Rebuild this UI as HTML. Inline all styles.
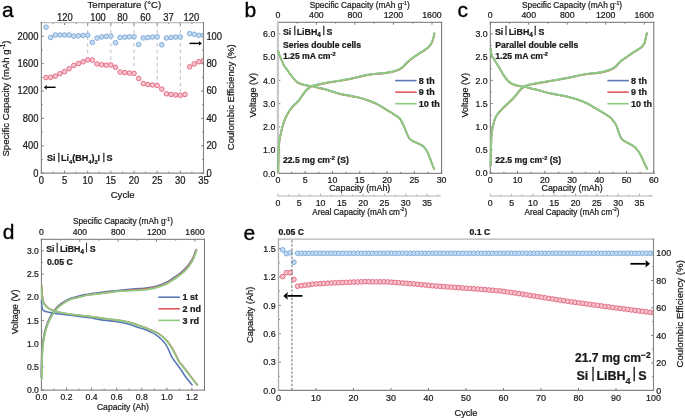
<!DOCTYPE html>
<html><head><meta charset="utf-8"><style>
html,body{margin:0;padding:0;background:#fff;width:685px;height:418px;overflow:hidden;}
svg{display:block;will-change:transform;filter:blur(0.25px);font-family:"Liberation Sans", sans-serif;}
</style></head><body>
<svg width="685" height="418" viewBox="0 0 685 418" font-family='"Liberation Sans", sans-serif'>
<rect width="685" height="418" fill="#fff"/>
<text x="2.1" y="16.7" font-size="21" stroke="#000" stroke-width="0.35" fill="#000">a</text>
<line x1="87.71" y1="23.4" x2="87.71" y2="56" stroke="#bdbdbd" stroke-width="1" stroke-dasharray="3.4,3.2"/>
<line x1="110.87" y1="23.4" x2="110.87" y2="61.2" stroke="#bdbdbd" stroke-width="1" stroke-dasharray="3.4,3.2"/>
<line x1="134.03" y1="23.4" x2="134.03" y2="69.6" stroke="#bdbdbd" stroke-width="1" stroke-dasharray="3.4,3.2"/>
<line x1="157.19" y1="23.4" x2="157.19" y2="81.7" stroke="#bdbdbd" stroke-width="1" stroke-dasharray="3.4,3.2"/>
<line x1="180.34" y1="23.4" x2="180.34" y2="91.5" stroke="#bdbdbd" stroke-width="1" stroke-dasharray="3.4,3.2"/>
<line x1="41.4" y1="173.1" x2="41.4" y2="170.7" stroke="#7e7e7e" stroke-width="1"/>
<line x1="41.4" y1="22.6" x2="41.4" y2="25" stroke="#7e7e7e" stroke-width="1"/>
<line x1="52.98" y1="173.1" x2="52.98" y2="171.7" stroke="#7e7e7e" stroke-width="1"/>
<line x1="52.98" y1="22.6" x2="52.98" y2="24" stroke="#7e7e7e" stroke-width="1"/>
<line x1="64.56" y1="173.1" x2="64.56" y2="170.7" stroke="#7e7e7e" stroke-width="1"/>
<line x1="64.56" y1="22.6" x2="64.56" y2="25" stroke="#7e7e7e" stroke-width="1"/>
<line x1="76.14" y1="173.1" x2="76.14" y2="171.7" stroke="#7e7e7e" stroke-width="1"/>
<line x1="76.14" y1="22.6" x2="76.14" y2="24" stroke="#7e7e7e" stroke-width="1"/>
<line x1="87.71" y1="173.1" x2="87.71" y2="170.7" stroke="#7e7e7e" stroke-width="1"/>
<line x1="87.71" y1="22.6" x2="87.71" y2="25" stroke="#7e7e7e" stroke-width="1"/>
<line x1="99.29" y1="173.1" x2="99.29" y2="171.7" stroke="#7e7e7e" stroke-width="1"/>
<line x1="99.29" y1="22.6" x2="99.29" y2="24" stroke="#7e7e7e" stroke-width="1"/>
<line x1="110.87" y1="173.1" x2="110.87" y2="170.7" stroke="#7e7e7e" stroke-width="1"/>
<line x1="110.87" y1="22.6" x2="110.87" y2="25" stroke="#7e7e7e" stroke-width="1"/>
<line x1="122.45" y1="173.1" x2="122.45" y2="171.7" stroke="#7e7e7e" stroke-width="1"/>
<line x1="122.45" y1="22.6" x2="122.45" y2="24" stroke="#7e7e7e" stroke-width="1"/>
<line x1="134.03" y1="173.1" x2="134.03" y2="170.7" stroke="#7e7e7e" stroke-width="1"/>
<line x1="134.03" y1="22.6" x2="134.03" y2="25" stroke="#7e7e7e" stroke-width="1"/>
<line x1="145.61" y1="173.1" x2="145.61" y2="171.7" stroke="#7e7e7e" stroke-width="1"/>
<line x1="145.61" y1="22.6" x2="145.61" y2="24" stroke="#7e7e7e" stroke-width="1"/>
<line x1="157.19" y1="173.1" x2="157.19" y2="170.7" stroke="#7e7e7e" stroke-width="1"/>
<line x1="157.19" y1="22.6" x2="157.19" y2="25" stroke="#7e7e7e" stroke-width="1"/>
<line x1="168.76" y1="173.1" x2="168.76" y2="171.7" stroke="#7e7e7e" stroke-width="1"/>
<line x1="168.76" y1="22.6" x2="168.76" y2="24" stroke="#7e7e7e" stroke-width="1"/>
<line x1="180.34" y1="173.1" x2="180.34" y2="170.7" stroke="#7e7e7e" stroke-width="1"/>
<line x1="180.34" y1="22.6" x2="180.34" y2="25" stroke="#7e7e7e" stroke-width="1"/>
<line x1="191.92" y1="173.1" x2="191.92" y2="171.7" stroke="#7e7e7e" stroke-width="1"/>
<line x1="191.92" y1="22.6" x2="191.92" y2="24" stroke="#7e7e7e" stroke-width="1"/>
<line x1="203.5" y1="173.1" x2="203.5" y2="170.7" stroke="#7e7e7e" stroke-width="1"/>
<line x1="203.5" y1="22.6" x2="203.5" y2="25" stroke="#7e7e7e" stroke-width="1"/>
<line x1="41.4" y1="173.1" x2="43.8" y2="173.1" stroke="#7e7e7e" stroke-width="1"/>
<line x1="41.4" y1="159.42" x2="42.8" y2="159.42" stroke="#7e7e7e" stroke-width="1"/>
<line x1="41.4" y1="145.74" x2="43.8" y2="145.74" stroke="#7e7e7e" stroke-width="1"/>
<line x1="41.4" y1="132.05" x2="42.8" y2="132.05" stroke="#7e7e7e" stroke-width="1"/>
<line x1="41.4" y1="118.37" x2="43.8" y2="118.37" stroke="#7e7e7e" stroke-width="1"/>
<line x1="41.4" y1="104.69" x2="42.8" y2="104.69" stroke="#7e7e7e" stroke-width="1"/>
<line x1="41.4" y1="91.01" x2="43.8" y2="91.01" stroke="#7e7e7e" stroke-width="1"/>
<line x1="41.4" y1="77.33" x2="42.8" y2="77.33" stroke="#7e7e7e" stroke-width="1"/>
<line x1="41.4" y1="63.65" x2="43.8" y2="63.65" stroke="#7e7e7e" stroke-width="1"/>
<line x1="41.4" y1="49.96" x2="42.8" y2="49.96" stroke="#7e7e7e" stroke-width="1"/>
<line x1="41.4" y1="36.28" x2="43.8" y2="36.28" stroke="#7e7e7e" stroke-width="1"/>
<line x1="41.4" y1="22.6" x2="42.8" y2="22.6" stroke="#7e7e7e" stroke-width="1"/>
<line x1="203.5" y1="173.1" x2="201.1" y2="173.1" stroke="#7e7e7e" stroke-width="1"/>
<line x1="203.5" y1="159.42" x2="202.1" y2="159.42" stroke="#7e7e7e" stroke-width="1"/>
<line x1="203.5" y1="145.74" x2="201.1" y2="145.74" stroke="#7e7e7e" stroke-width="1"/>
<line x1="203.5" y1="132.05" x2="202.1" y2="132.05" stroke="#7e7e7e" stroke-width="1"/>
<line x1="203.5" y1="118.37" x2="201.1" y2="118.37" stroke="#7e7e7e" stroke-width="1"/>
<line x1="203.5" y1="104.69" x2="202.1" y2="104.69" stroke="#7e7e7e" stroke-width="1"/>
<line x1="203.5" y1="91.01" x2="201.1" y2="91.01" stroke="#7e7e7e" stroke-width="1"/>
<line x1="203.5" y1="77.33" x2="202.1" y2="77.33" stroke="#7e7e7e" stroke-width="1"/>
<line x1="203.5" y1="63.65" x2="201.1" y2="63.65" stroke="#7e7e7e" stroke-width="1"/>
<line x1="203.5" y1="49.96" x2="202.1" y2="49.96" stroke="#7e7e7e" stroke-width="1"/>
<line x1="203.5" y1="36.28" x2="201.1" y2="36.28" stroke="#7e7e7e" stroke-width="1"/>
<line x1="203.5" y1="22.6" x2="202.1" y2="22.6" stroke="#7e7e7e" stroke-width="1"/>
<clipPath id="clipa"><rect x="41.4" y="22.6" width="162.1" height="150.5"/></clipPath><g clip-path="url(#clipa)">
<circle cx="46.03" cy="27.2" r="2.3" fill="#c7dbf0" stroke="#7eaedb" stroke-width="1"/>
<circle cx="50.66" cy="37.5" r="2.3" fill="#c7dbf0" stroke="#7eaedb" stroke-width="1"/>
<circle cx="55.29" cy="35" r="2.3" fill="#c7dbf0" stroke="#7eaedb" stroke-width="1"/>
<circle cx="59.93" cy="35" r="2.3" fill="#c7dbf0" stroke="#7eaedb" stroke-width="1"/>
<circle cx="64.56" cy="35" r="2.3" fill="#c7dbf0" stroke="#7eaedb" stroke-width="1"/>
<circle cx="69.19" cy="35" r="2.3" fill="#c7dbf0" stroke="#7eaedb" stroke-width="1"/>
<circle cx="73.82" cy="36.1" r="2.3" fill="#c7dbf0" stroke="#7eaedb" stroke-width="1"/>
<circle cx="78.45" cy="35.8" r="2.3" fill="#c7dbf0" stroke="#7eaedb" stroke-width="1"/>
<circle cx="83.08" cy="35.4" r="2.3" fill="#c7dbf0" stroke="#7eaedb" stroke-width="1"/>
<circle cx="87.71" cy="35.2" r="2.3" fill="#c7dbf0" stroke="#7eaedb" stroke-width="1"/>
<circle cx="92.35" cy="42.4" r="2.3" fill="#c7dbf0" stroke="#7eaedb" stroke-width="1"/>
<circle cx="96.98" cy="38.1" r="2.3" fill="#c7dbf0" stroke="#7eaedb" stroke-width="1"/>
<circle cx="101.61" cy="36.9" r="2.3" fill="#c7dbf0" stroke="#7eaedb" stroke-width="1"/>
<circle cx="106.24" cy="36.4" r="2.3" fill="#c7dbf0" stroke="#7eaedb" stroke-width="1"/>
<circle cx="110.87" cy="36.1" r="2.3" fill="#c7dbf0" stroke="#7eaedb" stroke-width="1"/>
<circle cx="115.5" cy="42.7" r="2.3" fill="#c7dbf0" stroke="#7eaedb" stroke-width="1"/>
<circle cx="120.13" cy="37.5" r="2.3" fill="#c7dbf0" stroke="#7eaedb" stroke-width="1"/>
<circle cx="124.77" cy="37.1" r="2.3" fill="#c7dbf0" stroke="#7eaedb" stroke-width="1"/>
<circle cx="129.4" cy="36.8" r="2.3" fill="#c7dbf0" stroke="#7eaedb" stroke-width="1"/>
<circle cx="134.03" cy="36.8" r="2.3" fill="#c7dbf0" stroke="#7eaedb" stroke-width="1"/>
<circle cx="138.66" cy="44.5" r="2.3" fill="#c7dbf0" stroke="#7eaedb" stroke-width="1"/>
<circle cx="143.29" cy="38" r="2.3" fill="#c7dbf0" stroke="#7eaedb" stroke-width="1"/>
<circle cx="147.92" cy="37.5" r="2.3" fill="#c7dbf0" stroke="#7eaedb" stroke-width="1"/>
<circle cx="152.55" cy="37.1" r="2.3" fill="#c7dbf0" stroke="#7eaedb" stroke-width="1"/>
<circle cx="157.19" cy="36.8" r="2.3" fill="#c7dbf0" stroke="#7eaedb" stroke-width="1"/>
<circle cx="161.82" cy="44.8" r="2.3" fill="#c7dbf0" stroke="#7eaedb" stroke-width="1"/>
<circle cx="166.45" cy="38" r="2.3" fill="#c7dbf0" stroke="#7eaedb" stroke-width="1"/>
<circle cx="171.08" cy="37.5" r="2.3" fill="#c7dbf0" stroke="#7eaedb" stroke-width="1"/>
<circle cx="175.71" cy="37.1" r="2.3" fill="#c7dbf0" stroke="#7eaedb" stroke-width="1"/>
<circle cx="180.34" cy="37.1" r="2.3" fill="#c7dbf0" stroke="#7eaedb" stroke-width="1"/>
<circle cx="189.61" cy="33.6" r="2.3" fill="#c7dbf0" stroke="#7eaedb" stroke-width="1"/>
<circle cx="194.24" cy="34.3" r="2.3" fill="#c7dbf0" stroke="#7eaedb" stroke-width="1"/>
<circle cx="198.87" cy="35.3" r="2.3" fill="#c7dbf0" stroke="#7eaedb" stroke-width="1"/>
<circle cx="203.5" cy="35.3" r="2.3" fill="#c7dbf0" stroke="#7eaedb" stroke-width="1"/>
<circle cx="46.03" cy="77.6" r="2.3" fill="#f8c4cc" stroke="#e36d88" stroke-width="1"/>
<circle cx="50.66" cy="77.3" r="2.3" fill="#f8c4cc" stroke="#e36d88" stroke-width="1"/>
<circle cx="55.29" cy="76.1" r="2.3" fill="#f8c4cc" stroke="#e36d88" stroke-width="1"/>
<circle cx="59.93" cy="73.7" r="2.3" fill="#f8c4cc" stroke="#e36d88" stroke-width="1"/>
<circle cx="64.56" cy="71.6" r="2.3" fill="#f8c4cc" stroke="#e36d88" stroke-width="1"/>
<circle cx="69.19" cy="68.7" r="2.3" fill="#f8c4cc" stroke="#e36d88" stroke-width="1"/>
<circle cx="73.82" cy="65.4" r="2.3" fill="#f8c4cc" stroke="#e36d88" stroke-width="1"/>
<circle cx="78.45" cy="63.6" r="2.3" fill="#f8c4cc" stroke="#e36d88" stroke-width="1"/>
<circle cx="83.08" cy="61.8" r="2.3" fill="#f8c4cc" stroke="#e36d88" stroke-width="1"/>
<circle cx="87.71" cy="59.8" r="2.3" fill="#f8c4cc" stroke="#e36d88" stroke-width="1"/>
<circle cx="92.35" cy="60.1" r="2.3" fill="#f8c4cc" stroke="#e36d88" stroke-width="1"/>
<circle cx="96.98" cy="63.9" r="2.3" fill="#f8c4cc" stroke="#e36d88" stroke-width="1"/>
<circle cx="101.61" cy="64.8" r="2.3" fill="#f8c4cc" stroke="#e36d88" stroke-width="1"/>
<circle cx="106.24" cy="65.1" r="2.3" fill="#f8c4cc" stroke="#e36d88" stroke-width="1"/>
<circle cx="110.87" cy="65" r="2.3" fill="#f8c4cc" stroke="#e36d88" stroke-width="1"/>
<circle cx="115.5" cy="67.3" r="2.3" fill="#f8c4cc" stroke="#e36d88" stroke-width="1"/>
<circle cx="120.13" cy="72" r="2.3" fill="#f8c4cc" stroke="#e36d88" stroke-width="1"/>
<circle cx="124.77" cy="72.6" r="2.3" fill="#f8c4cc" stroke="#e36d88" stroke-width="1"/>
<circle cx="129.4" cy="73.1" r="2.3" fill="#f8c4cc" stroke="#e36d88" stroke-width="1"/>
<circle cx="134.03" cy="73.4" r="2.3" fill="#f8c4cc" stroke="#e36d88" stroke-width="1"/>
<circle cx="138.66" cy="78.5" r="2.3" fill="#f8c4cc" stroke="#e36d88" stroke-width="1"/>
<circle cx="143.29" cy="83.6" r="2.3" fill="#f8c4cc" stroke="#e36d88" stroke-width="1"/>
<circle cx="147.92" cy="84.6" r="2.3" fill="#f8c4cc" stroke="#e36d88" stroke-width="1"/>
<circle cx="152.55" cy="85" r="2.3" fill="#f8c4cc" stroke="#e36d88" stroke-width="1"/>
<circle cx="157.19" cy="85.5" r="2.3" fill="#f8c4cc" stroke="#e36d88" stroke-width="1"/>
<circle cx="161.82" cy="89.1" r="2.3" fill="#f8c4cc" stroke="#e36d88" stroke-width="1"/>
<circle cx="166.45" cy="93.8" r="2.3" fill="#f8c4cc" stroke="#e36d88" stroke-width="1"/>
<circle cx="171.08" cy="94.5" r="2.3" fill="#f8c4cc" stroke="#e36d88" stroke-width="1"/>
<circle cx="175.71" cy="95" r="2.3" fill="#f8c4cc" stroke="#e36d88" stroke-width="1"/>
<circle cx="180.34" cy="95.3" r="2.3" fill="#f8c4cc" stroke="#e36d88" stroke-width="1"/>
<circle cx="184.97" cy="94.5" r="2.3" fill="#f8c4cc" stroke="#e36d88" stroke-width="1"/>
<circle cx="189.61" cy="66.8" r="2.3" fill="#f8c4cc" stroke="#e36d88" stroke-width="1"/>
<circle cx="194.24" cy="63.9" r="2.3" fill="#f8c4cc" stroke="#e36d88" stroke-width="1"/>
<circle cx="198.87" cy="61.7" r="2.3" fill="#f8c4cc" stroke="#e36d88" stroke-width="1"/>
<circle cx="203.5" cy="60.5" r="2.3" fill="#f8c4cc" stroke="#e36d88" stroke-width="1"/>
</g>
<line x1="41.4" y1="22.6" x2="203.5" y2="22.6" stroke="#bdbdbd" stroke-width="1.4" stroke-linecap="square"/>
<line x1="41.4" y1="173.1" x2="203.5" y2="173.1" stroke="#8a8a8a" stroke-width="1.15" stroke-linecap="square"/>
<line x1="41.4" y1="22.6" x2="41.4" y2="173.1" stroke="#858585" stroke-width="1.15" stroke-linecap="square"/>
<line x1="203.5" y1="22.6" x2="203.5" y2="173.1" stroke="#808080" stroke-width="1.1" stroke-linecap="square"/>
<line x1="55.6" y1="87.3" x2="46.4" y2="87.3" stroke="#000" stroke-width="1.45"/>
<path d="M43.9 87.3 L46.9 84.9 L46.5 87.3 L46.9 89.7 Z" fill="#000"/>
<line x1="189.5" y1="43.4" x2="199.3" y2="43.4" stroke="#000" stroke-width="1.45"/>
<path d="M201.8 43.4 L198.8 41 L199.2 43.4 L198.8 45.8 Z" fill="#000"/>
<text x="0" y="0" font-size="9.4" text-anchor="end" stroke="#1a1a1a" stroke-width="0.22" fill="#1a1a1a" transform="translate(38.4 176.56) scale(1 1.07)">0</text>
<text x="0" y="0" font-size="9.4" text-anchor="end" stroke="#1a1a1a" stroke-width="0.22" fill="#1a1a1a" transform="translate(38.4 149.2) scale(1 1.07)">400</text>
<text x="0" y="0" font-size="9.4" text-anchor="end" stroke="#1a1a1a" stroke-width="0.22" fill="#1a1a1a" transform="translate(38.4 121.83) scale(1 1.07)">800</text>
<text x="0" y="0" font-size="9.4" text-anchor="end" stroke="#1a1a1a" stroke-width="0.22" fill="#1a1a1a" transform="translate(38.4 94.47) scale(1 1.07)">1200</text>
<text x="0" y="0" font-size="9.4" text-anchor="end" stroke="#1a1a1a" stroke-width="0.22" fill="#1a1a1a" transform="translate(38.4 67.11) scale(1 1.07)">1600</text>
<text x="0" y="0" font-size="9.4" text-anchor="end" stroke="#1a1a1a" stroke-width="0.22" fill="#1a1a1a" transform="translate(38.4 39.74) scale(1 1.07)">2000</text>
<text x="0" y="0" font-size="9.4" stroke="#1a1a1a" stroke-width="0.22" fill="#1a1a1a" transform="translate(206.4 176.56) scale(1 1.07)">0</text>
<text x="0" y="0" font-size="9.4" stroke="#1a1a1a" stroke-width="0.22" fill="#1a1a1a" transform="translate(206.4 149.2) scale(1 1.07)">20</text>
<text x="0" y="0" font-size="9.4" stroke="#1a1a1a" stroke-width="0.22" fill="#1a1a1a" transform="translate(206.4 121.83) scale(1 1.07)">40</text>
<text x="0" y="0" font-size="9.4" stroke="#1a1a1a" stroke-width="0.22" fill="#1a1a1a" transform="translate(206.4 94.47) scale(1 1.07)">60</text>
<text x="0" y="0" font-size="9.4" stroke="#1a1a1a" stroke-width="0.22" fill="#1a1a1a" transform="translate(206.4 67.11) scale(1 1.07)">80</text>
<text x="0" y="0" font-size="9.4" stroke="#1a1a1a" stroke-width="0.22" fill="#1a1a1a" transform="translate(206.4 39.74) scale(1 1.07)">100</text>
<text x="0" y="0" font-size="9.4" text-anchor="middle" stroke="#1a1a1a" stroke-width="0.22" fill="#1a1a1a" transform="translate(41.4 183.7) scale(1 1.07)">0</text>
<text x="0" y="0" font-size="9.4" text-anchor="middle" stroke="#1a1a1a" stroke-width="0.22" fill="#1a1a1a" transform="translate(64.56 183.7) scale(1 1.07)">5</text>
<text x="0" y="0" font-size="9.4" text-anchor="middle" stroke="#1a1a1a" stroke-width="0.22" fill="#1a1a1a" transform="translate(87.71 183.7) scale(1 1.07)">10</text>
<text x="0" y="0" font-size="9.4" text-anchor="middle" stroke="#1a1a1a" stroke-width="0.22" fill="#1a1a1a" transform="translate(110.87 183.7) scale(1 1.07)">15</text>
<text x="0" y="0" font-size="9.4" text-anchor="middle" stroke="#1a1a1a" stroke-width="0.22" fill="#1a1a1a" transform="translate(134.03 183.7) scale(1 1.07)">20</text>
<text x="0" y="0" font-size="9.4" text-anchor="middle" stroke="#1a1a1a" stroke-width="0.22" fill="#1a1a1a" transform="translate(157.19 183.7) scale(1 1.07)">25</text>
<text x="0" y="0" font-size="9.4" text-anchor="middle" stroke="#1a1a1a" stroke-width="0.22" fill="#1a1a1a" transform="translate(180.34 183.7) scale(1 1.07)">30</text>
<text x="0" y="0" font-size="9.4" text-anchor="middle" stroke="#1a1a1a" stroke-width="0.22" fill="#1a1a1a" transform="translate(203.5 183.7) scale(1 1.07)">35</text>
<text x="0" y="0" font-size="9.4" text-anchor="middle" stroke="#1a1a1a" stroke-width="0.22" fill="#1a1a1a" transform="translate(64.8 21) scale(1 1.07)">120</text>
<text x="0" y="0" font-size="9.4" text-anchor="middle" stroke="#1a1a1a" stroke-width="0.22" fill="#1a1a1a" transform="translate(98 21) scale(1 1.07)">100</text>
<text x="0" y="0" font-size="9.4" text-anchor="middle" stroke="#1a1a1a" stroke-width="0.22" fill="#1a1a1a" transform="translate(122.5 21) scale(1 1.07)">80</text>
<text x="0" y="0" font-size="9.4" text-anchor="middle" stroke="#1a1a1a" stroke-width="0.22" fill="#1a1a1a" transform="translate(145.5 21) scale(1 1.07)">60</text>
<text x="0" y="0" font-size="9.4" text-anchor="middle" stroke="#1a1a1a" stroke-width="0.22" fill="#1a1a1a" transform="translate(168.4 21) scale(1 1.07)">37</text>
<text x="0" y="0" font-size="9.4" text-anchor="middle" stroke="#1a1a1a" stroke-width="0.22" fill="#1a1a1a" transform="translate(191.3 21) scale(1 1.07)">120</text>
<text x="124.4" y="7.8" font-size="9.6" text-anchor="middle" stroke="#1a1a1a" stroke-width="0.22" fill="#1a1a1a">Temperature (°C)</text>
<text x="122.7" y="198" font-size="9.6" text-anchor="middle" stroke="#1a1a1a" stroke-width="0.22" fill="#1a1a1a">Cycle</text>
<text x="8.9" y="98.5" font-size="9.6" text-anchor="middle" stroke="#1a1a1a" stroke-width="0.22" fill="#1a1a1a" transform="rotate(-90 8.9 98.5)">Specific Capacity (mAh g<tspan dy="-3.4" font-size="6.4">-1</tspan><tspan dy="3.4">)</tspan></text>
<text x="233.6" y="97.2" font-size="9.55" text-anchor="middle" stroke="#1a1a1a" stroke-width="0.22" fill="#1a1a1a" transform="rotate(-90 233.6 97.2)">Coulombic Efficiency (%)</text>
<text x="46.9" y="161.4" font-size="9" font-weight="bold" stroke="#1a1a1a" stroke-width="0.24" fill="#1a1a1a">Si<tspan dx="2" dy="-1.3" font-weight="normal" font-size="9.9" stroke="#1a1a1a" stroke-width="0.3">|</tspan><tspan dx="1.0" dy="1.3">Li</tspan><tspan dx="0" dy="2.43" font-size="5.76">4</tspan><tspan dy="-2.43">(BH</tspan><tspan dx="0" dy="2.43" font-size="5.76">4</tspan><tspan dy="-2.43">)</tspan><tspan dx="0" dy="2.43" font-size="5.76">3</tspan><tspan dy="-2.43">I</tspan><tspan dx="2.3" dy="-1.3" font-weight="normal" font-size="9.9" stroke="#1a1a1a" stroke-width="0.3">|</tspan><tspan dx="1.5" dy="1.3">S</tspan></text>
<text x="244.4" y="16.5" font-size="21" stroke="#000" stroke-width="0.35" fill="#000">b</text>
<line x1="277.9" y1="22.3" x2="277.9" y2="24.7" stroke="#7e7e7e" stroke-width="1"/>
<line x1="297.16" y1="22.3" x2="297.16" y2="23.7" stroke="#7e7e7e" stroke-width="1"/>
<line x1="316.42" y1="22.3" x2="316.42" y2="24.7" stroke="#7e7e7e" stroke-width="1"/>
<line x1="335.68" y1="22.3" x2="335.68" y2="23.7" stroke="#7e7e7e" stroke-width="1"/>
<line x1="354.94" y1="22.3" x2="354.94" y2="24.7" stroke="#7e7e7e" stroke-width="1"/>
<line x1="374.19" y1="22.3" x2="374.19" y2="23.7" stroke="#7e7e7e" stroke-width="1"/>
<line x1="393.45" y1="22.3" x2="393.45" y2="24.7" stroke="#7e7e7e" stroke-width="1"/>
<line x1="412.71" y1="22.3" x2="412.71" y2="23.7" stroke="#7e7e7e" stroke-width="1"/>
<line x1="431.97" y1="22.3" x2="431.97" y2="24.7" stroke="#7e7e7e" stroke-width="1"/>
<text x="0" y="0" font-size="8.8" text-anchor="middle" stroke="#1a1a1a" stroke-width="0.22" fill="#1a1a1a" transform="translate(277.9 17.7) scale(1 1.07)">0</text>
<text x="0" y="0" font-size="8.8" text-anchor="middle" stroke="#1a1a1a" stroke-width="0.22" fill="#1a1a1a" transform="translate(316.42 17.7) scale(1 1.07)">400</text>
<text x="0" y="0" font-size="8.8" text-anchor="middle" stroke="#1a1a1a" stroke-width="0.22" fill="#1a1a1a" transform="translate(354.94 17.7) scale(1 1.07)">800</text>
<text x="0" y="0" font-size="8.8" text-anchor="middle" stroke="#1a1a1a" stroke-width="0.22" fill="#1a1a1a" transform="translate(393.45 17.7) scale(1 1.07)">1200</text>
<text x="0" y="0" font-size="8.8" text-anchor="middle" stroke="#1a1a1a" stroke-width="0.22" fill="#1a1a1a" transform="translate(431.97 17.7) scale(1 1.07)">1600</text>
<text x="359.75" y="8.2" font-size="8.3" text-anchor="middle" stroke="#1a1a1a" stroke-width="0.22" fill="#1a1a1a">Specific Capacity (mAh g<tspan dy="-3.4" font-size="5.2">-1</tspan><tspan dy="3.4">)</tspan></text>
<line x1="277.9" y1="173.3" x2="277.9" y2="170.9" stroke="#7e7e7e" stroke-width="1"/>
<line x1="291.54" y1="173.3" x2="291.54" y2="171.9" stroke="#7e7e7e" stroke-width="1"/>
<line x1="305.18" y1="173.3" x2="305.18" y2="170.9" stroke="#7e7e7e" stroke-width="1"/>
<line x1="318.82" y1="173.3" x2="318.82" y2="171.9" stroke="#7e7e7e" stroke-width="1"/>
<line x1="332.47" y1="173.3" x2="332.47" y2="170.9" stroke="#7e7e7e" stroke-width="1"/>
<line x1="346.11" y1="173.3" x2="346.11" y2="171.9" stroke="#7e7e7e" stroke-width="1"/>
<line x1="359.75" y1="173.3" x2="359.75" y2="170.9" stroke="#7e7e7e" stroke-width="1"/>
<line x1="373.39" y1="173.3" x2="373.39" y2="171.9" stroke="#7e7e7e" stroke-width="1"/>
<line x1="387.03" y1="173.3" x2="387.03" y2="170.9" stroke="#7e7e7e" stroke-width="1"/>
<line x1="400.68" y1="173.3" x2="400.68" y2="171.9" stroke="#7e7e7e" stroke-width="1"/>
<line x1="414.32" y1="173.3" x2="414.32" y2="170.9" stroke="#7e7e7e" stroke-width="1"/>
<line x1="427.96" y1="173.3" x2="427.96" y2="171.9" stroke="#7e7e7e" stroke-width="1"/>
<line x1="441.6" y1="173.3" x2="441.6" y2="170.9" stroke="#7e7e7e" stroke-width="1"/>
<text x="0" y="0" font-size="8.8" text-anchor="middle" stroke="#1a1a1a" stroke-width="0.22" fill="#1a1a1a" transform="translate(277.9 183.1) scale(1 1.07)">0</text>
<text x="0" y="0" font-size="8.8" text-anchor="middle" stroke="#1a1a1a" stroke-width="0.22" fill="#1a1a1a" transform="translate(305.18 183.1) scale(1 1.07)">5</text>
<text x="0" y="0" font-size="8.8" text-anchor="middle" stroke="#1a1a1a" stroke-width="0.22" fill="#1a1a1a" transform="translate(332.47 183.1) scale(1 1.07)">10</text>
<text x="0" y="0" font-size="8.8" text-anchor="middle" stroke="#1a1a1a" stroke-width="0.22" fill="#1a1a1a" transform="translate(359.75 183.1) scale(1 1.07)">15</text>
<text x="0" y="0" font-size="8.8" text-anchor="middle" stroke="#1a1a1a" stroke-width="0.22" fill="#1a1a1a" transform="translate(387.03 183.1) scale(1 1.07)">20</text>
<text x="0" y="0" font-size="8.8" text-anchor="middle" stroke="#1a1a1a" stroke-width="0.22" fill="#1a1a1a" transform="translate(414.32 183.1) scale(1 1.07)">25</text>
<text x="0" y="0" font-size="8.8" text-anchor="middle" stroke="#1a1a1a" stroke-width="0.22" fill="#1a1a1a" transform="translate(441.6 183.1) scale(1 1.07)">30</text>
<text x="359.75" y="191.3" font-size="8.9" text-anchor="middle" stroke="#1a1a1a" stroke-width="0.22" fill="#1a1a1a">Capacity (mAh)</text>
<line x1="277.9" y1="173.3" x2="280.3" y2="173.3" stroke="#7e7e7e" stroke-width="1"/>
<line x1="277.9" y1="161.68" x2="279.3" y2="161.68" stroke="#7e7e7e" stroke-width="1"/>
<line x1="277.9" y1="150.07" x2="280.3" y2="150.07" stroke="#7e7e7e" stroke-width="1"/>
<line x1="277.9" y1="138.45" x2="279.3" y2="138.45" stroke="#7e7e7e" stroke-width="1"/>
<line x1="277.9" y1="126.84" x2="280.3" y2="126.84" stroke="#7e7e7e" stroke-width="1"/>
<line x1="277.9" y1="115.22" x2="279.3" y2="115.22" stroke="#7e7e7e" stroke-width="1"/>
<line x1="277.9" y1="103.61" x2="280.3" y2="103.61" stroke="#7e7e7e" stroke-width="1"/>
<line x1="277.9" y1="91.99" x2="279.3" y2="91.99" stroke="#7e7e7e" stroke-width="1"/>
<line x1="277.9" y1="80.38" x2="280.3" y2="80.38" stroke="#7e7e7e" stroke-width="1"/>
<line x1="277.9" y1="68.76" x2="279.3" y2="68.76" stroke="#7e7e7e" stroke-width="1"/>
<line x1="277.9" y1="57.15" x2="280.3" y2="57.15" stroke="#7e7e7e" stroke-width="1"/>
<line x1="277.9" y1="45.53" x2="279.3" y2="45.53" stroke="#7e7e7e" stroke-width="1"/>
<line x1="277.9" y1="33.92" x2="280.3" y2="33.92" stroke="#7e7e7e" stroke-width="1"/>
<line x1="277.9" y1="22.3" x2="279.3" y2="22.3" stroke="#7e7e7e" stroke-width="1"/>
<text x="0" y="0" font-size="8.8" text-anchor="end" stroke="#1a1a1a" stroke-width="0.22" fill="#1a1a1a" transform="translate(275.3 176.54) scale(1 1.07)">0.0</text>
<text x="0" y="0" font-size="8.8" text-anchor="end" stroke="#1a1a1a" stroke-width="0.22" fill="#1a1a1a" transform="translate(275.3 153.31) scale(1 1.07)">1.0</text>
<text x="0" y="0" font-size="8.8" text-anchor="end" stroke="#1a1a1a" stroke-width="0.22" fill="#1a1a1a" transform="translate(275.3 130.08) scale(1 1.07)">2.0</text>
<text x="0" y="0" font-size="8.8" text-anchor="end" stroke="#1a1a1a" stroke-width="0.22" fill="#1a1a1a" transform="translate(275.3 106.85) scale(1 1.07)">3.0</text>
<text x="0" y="0" font-size="8.8" text-anchor="end" stroke="#1a1a1a" stroke-width="0.22" fill="#1a1a1a" transform="translate(275.3 83.62) scale(1 1.07)">4.0</text>
<text x="0" y="0" font-size="8.8" text-anchor="end" stroke="#1a1a1a" stroke-width="0.22" fill="#1a1a1a" transform="translate(275.3 60.39) scale(1 1.07)">5.0</text>
<text x="0" y="0" font-size="8.8" text-anchor="end" stroke="#1a1a1a" stroke-width="0.22" fill="#1a1a1a" transform="translate(275.3 37.15) scale(1 1.07)">6.0</text>
<text x="255.9" y="95.2" font-size="9" text-anchor="middle" stroke="#1a1a1a" stroke-width="0.22" fill="#1a1a1a" transform="rotate(-90 255.9 95.2)">Voltage (V)</text>
<line x1="277.9" y1="22.3" x2="441.6" y2="22.3" stroke="#6e6e6e" stroke-width="1" stroke-linecap="square"/>
<line x1="277.9" y1="173.3" x2="441.6" y2="173.3" stroke="#6e6e6e" stroke-width="1" stroke-linecap="square"/>
<line x1="277.9" y1="22.3" x2="277.9" y2="173.3" stroke="#c8c8c8" stroke-width="2.2" stroke-linecap="square"/>
<line x1="441.6" y1="22.3" x2="441.6" y2="173.3" stroke="#6e6e6e" stroke-width="1" stroke-linecap="square"/>
<line x1="277.9" y1="196" x2="440.71" y2="196" stroke="#a8a8a8" stroke-width="0.9"/>
<line x1="277.9" y1="196" x2="277.9" y2="193.6" stroke="#a8a8a8" stroke-width="0.9"/>
<line x1="288.55" y1="196" x2="288.55" y2="194.6" stroke="#a8a8a8" stroke-width="0.9"/>
<line x1="299.21" y1="196" x2="299.21" y2="193.6" stroke="#a8a8a8" stroke-width="0.9"/>
<line x1="309.86" y1="196" x2="309.86" y2="194.6" stroke="#a8a8a8" stroke-width="0.9"/>
<line x1="320.52" y1="196" x2="320.52" y2="193.6" stroke="#a8a8a8" stroke-width="0.9"/>
<line x1="331.17" y1="196" x2="331.17" y2="194.6" stroke="#a8a8a8" stroke-width="0.9"/>
<line x1="341.83" y1="196" x2="341.83" y2="193.6" stroke="#a8a8a8" stroke-width="0.9"/>
<line x1="352.48" y1="196" x2="352.48" y2="194.6" stroke="#a8a8a8" stroke-width="0.9"/>
<line x1="363.14" y1="196" x2="363.14" y2="193.6" stroke="#a8a8a8" stroke-width="0.9"/>
<line x1="373.79" y1="196" x2="373.79" y2="194.6" stroke="#a8a8a8" stroke-width="0.9"/>
<line x1="384.45" y1="196" x2="384.45" y2="193.6" stroke="#a8a8a8" stroke-width="0.9"/>
<line x1="395.1" y1="196" x2="395.1" y2="194.6" stroke="#a8a8a8" stroke-width="0.9"/>
<line x1="405.76" y1="196" x2="405.76" y2="193.6" stroke="#a8a8a8" stroke-width="0.9"/>
<line x1="416.41" y1="196" x2="416.41" y2="194.6" stroke="#a8a8a8" stroke-width="0.9"/>
<line x1="427.07" y1="196" x2="427.07" y2="193.6" stroke="#a8a8a8" stroke-width="0.9"/>
<line x1="437.72" y1="196" x2="437.72" y2="194.6" stroke="#a8a8a8" stroke-width="0.9"/>
<text x="0" y="0" font-size="8.8" text-anchor="middle" stroke="#1a1a1a" stroke-width="0.22" fill="#1a1a1a" transform="translate(277.9 205.6) scale(1 1.07)">0</text>
<text x="0" y="0" font-size="8.8" text-anchor="middle" stroke="#1a1a1a" stroke-width="0.22" fill="#1a1a1a" transform="translate(299.21 205.6) scale(1 1.07)">5</text>
<text x="0" y="0" font-size="8.8" text-anchor="middle" stroke="#1a1a1a" stroke-width="0.22" fill="#1a1a1a" transform="translate(320.52 205.6) scale(1 1.07)">10</text>
<text x="0" y="0" font-size="8.8" text-anchor="middle" stroke="#1a1a1a" stroke-width="0.22" fill="#1a1a1a" transform="translate(341.83 205.6) scale(1 1.07)">15</text>
<text x="0" y="0" font-size="8.8" text-anchor="middle" stroke="#1a1a1a" stroke-width="0.22" fill="#1a1a1a" transform="translate(363.14 205.6) scale(1 1.07)">20</text>
<text x="0" y="0" font-size="8.8" text-anchor="middle" stroke="#1a1a1a" stroke-width="0.22" fill="#1a1a1a" transform="translate(384.45 205.6) scale(1 1.07)">25</text>
<text x="0" y="0" font-size="8.8" text-anchor="middle" stroke="#1a1a1a" stroke-width="0.22" fill="#1a1a1a" transform="translate(405.76 205.6) scale(1 1.07)">30</text>
<text x="0" y="0" font-size="8.8" text-anchor="middle" stroke="#1a1a1a" stroke-width="0.22" fill="#1a1a1a" transform="translate(427.07 205.6) scale(1 1.07)">35</text>
<text x="359.75" y="214.8" font-size="8.15" text-anchor="middle" stroke="#1a1a1a" stroke-width="0.22" fill="#1a1a1a">Areal Capacity (mAh cm<tspan dy="-3.4" font-size="5.2">-2</tspan><tspan dy="3.4">)</tspan></text>
<path d="M278.25 51.1 C278.35 51.47 278.67 52.7 278.85 53.3 C279.03 53.9 279.08 54 279.35 54.7 C279.62 55.4 280.03 56.53 280.45 57.5 C280.87 58.47 281.27 59.18 281.85 60.5 C282.43 61.82 283.08 63.87 283.95 65.4 C284.82 66.93 286.02 68.27 287.05 69.7 C288.08 71.13 289.12 72.6 290.15 74 C291.18 75.4 292.22 76.87 293.25 78.1 C294.28 79.33 295.32 80.53 296.35 81.4 C297.38 82.27 298.2 82.77 299.45 83.3 C300.7 83.83 302.62 84.27 303.85 84.6 C305.08 84.93 305.25 85.02 306.85 85.3 C308.45 85.58 311.42 85.88 313.45 86.3 C315.48 86.72 316.97 87.3 319.05 87.8 C321.13 88.3 322.65 88.35 325.95 89.3 C329.25 90.25 334.85 92.43 338.85 93.5 C342.85 94.57 346.67 95.05 349.95 95.7 C353.23 96.35 355.68 96.68 358.55 97.4 C361.42 98.12 364.28 99.02 367.15 100 C370.02 100.98 372.88 101.92 375.75 103.3 C378.62 104.68 381.47 106.58 384.35 108.3 C387.23 110.02 390.65 112.07 393.05 113.6 C395.45 115.13 397.4 116.35 398.75 117.5 C400.1 118.65 400.35 119.17 401.15 120.5 C401.95 121.83 402.72 123.63 403.55 125.5 C404.38 127.37 405.28 129.72 406.15 131.7 C407.02 133.68 407.77 135.93 408.75 137.4 C409.73 138.87 410.83 139.67 412.05 140.5 C413.27 141.33 414.73 141.78 416.05 142.4 C417.37 143.02 418.65 143.45 419.95 144.2 C421.25 144.95 422.65 145.68 423.85 146.9 C425.05 148.12 426.15 149.63 427.15 151.5 C428.15 153.37 429.03 156.02 429.85 158.1 C430.67 160.18 431.35 162.22 432.05 164 C432.75 165.78 433.72 168 434.05 168.8" fill="none" stroke="#5879b6" stroke-width="1.5" stroke-linejoin="round" stroke-linecap="round"/>
<path d="M278.15 171.4 C278.18 169.48 278.27 163.78 278.35 159.9 C278.43 156.02 278.5 151.18 278.65 148.1 C278.8 145.02 279.02 143.3 279.25 141.4 C279.48 139.5 279.72 138.45 280.05 136.7 C280.38 134.95 280.8 132.78 281.25 130.9 C281.7 129.02 282.17 127.32 282.75 125.4 C283.33 123.48 283.98 121.3 284.75 119.4 C285.52 117.5 286.48 115.62 287.35 114 C288.22 112.38 289.02 111.03 289.95 109.7 C290.88 108.37 291.95 107.1 292.95 106 C293.95 104.9 295 104.03 295.95 103.1 C296.9 102.17 297.73 101.52 298.65 100.4 C299.57 99.28 300.5 97.73 301.45 96.4 C302.4 95.07 303.4 93.62 304.35 92.4 C305.3 91.18 306.2 90.03 307.15 89.1 C308.1 88.17 309 87.4 310.05 86.8 C311.1 86.2 311.95 85.93 313.45 85.5 C314.95 85.07 316.97 84.67 319.05 84.2 C321.13 83.73 322.3 83.33 325.95 82.7 C329.6 82.07 336.12 81.25 340.95 80.4 C345.78 79.55 350.82 78.48 354.95 77.6 C359.08 76.72 362.17 75.77 365.75 75.1 C369.33 74.43 373.25 73.97 376.45 73.6 C379.65 73.23 382.33 73.23 384.95 72.9 C387.57 72.57 390.15 72.05 392.15 71.6 C394.15 71.15 395.65 70.67 396.95 70.2 C398.25 69.73 398.95 69.38 399.95 68.8 C400.95 68.22 401.85 67.7 402.95 66.7 C404.05 65.7 405.35 63.98 406.55 62.8 C407.75 61.62 408.72 60.73 410.15 59.6 C411.58 58.47 413.6 57.08 415.15 56 C416.7 54.92 418.02 54.03 419.45 53.1 C420.88 52.17 422.32 51.37 423.75 50.4 C425.18 49.43 426.78 48.52 428.05 47.3 C429.32 46.08 430.48 44.67 431.35 43.1 C432.22 41.53 432.75 39.53 433.25 37.9 C433.75 36.27 434.17 34.07 434.35 33.3" fill="none" stroke="#5879b6" stroke-width="1.5" stroke-linejoin="round" stroke-linecap="round"/>
<path d="M278.48 51.55 C278.58 51.92 278.89 53.15 279.07 53.75 C279.26 54.35 279.31 54.45 279.57 55.15 C279.84 55.85 280.26 56.98 280.68 57.95 C281.09 58.92 281.49 59.63 282.07 60.95 C282.66 62.27 283.31 64.32 284.18 65.85 C285.04 67.38 286.24 68.72 287.28 70.15 C288.31 71.58 289.34 73.05 290.38 74.45 C291.41 75.85 292.44 77.32 293.48 78.55 C294.51 79.78 295.54 80.98 296.57 81.85 C297.61 82.72 298.43 83.22 299.68 83.75 C300.93 84.28 302.84 84.72 304.07 85.05 C305.31 85.38 305.47 85.47 307.07 85.75 C308.68 86.03 311.64 86.33 313.68 86.75 C315.71 87.17 317.19 87.75 319.28 88.25 C321.36 88.75 322.88 88.8 326.18 89.75 C329.48 90.7 335.07 92.88 339.07 93.95 C343.07 95.02 346.89 95.5 350.18 96.15 C353.46 96.8 355.91 97.13 358.78 97.85 C361.64 98.57 364.51 99.47 367.38 100.45 C370.24 101.43 373.11 102.37 375.98 103.75 C378.84 105.13 381.69 107.03 384.57 108.75 C387.46 110.47 390.88 112.52 393.28 114.05 C395.68 115.58 397.62 116.8 398.98 117.95 C400.33 119.1 400.57 119.62 401.38 120.95 C402.18 122.28 402.94 124.08 403.78 125.95 C404.61 127.82 405.51 130.17 406.38 132.15 C407.24 134.13 407.99 136.38 408.98 137.85 C409.96 139.32 411.06 140.12 412.28 140.95 C413.49 141.78 414.96 142.23 416.28 142.85 C417.59 143.47 418.88 143.9 420.18 144.65 C421.48 145.4 422.88 146.13 424.07 147.35 C425.27 148.57 426.38 150.08 427.38 151.95 C428.38 153.82 429.26 156.47 430.07 158.55 C430.89 160.63 431.58 162.67 432.28 164.45 C432.98 166.23 433.94 168.45 434.28 169.25" fill="none" stroke="#e05860" stroke-width="1.5" stroke-linejoin="round" stroke-linecap="round"/>
<path d="M278.38 171.85 C278.41 169.93 278.49 164.23 278.57 160.35 C278.66 156.47 278.73 151.63 278.88 148.55 C279.02 145.47 279.24 143.75 279.48 141.85 C279.71 139.95 279.94 138.9 280.28 137.15 C280.61 135.4 281.03 133.23 281.48 131.35 C281.93 129.47 282.39 127.77 282.98 125.85 C283.56 123.93 284.21 121.75 284.98 119.85 C285.74 117.95 286.71 116.07 287.57 114.45 C288.44 112.83 289.24 111.48 290.18 110.15 C291.11 108.82 292.18 107.55 293.18 106.45 C294.18 105.35 295.23 104.48 296.18 103.55 C297.12 102.62 297.96 101.97 298.88 100.85 C299.79 99.73 300.73 98.18 301.68 96.85 C302.62 95.52 303.62 94.07 304.57 92.85 C305.52 91.63 306.43 90.48 307.38 89.55 C308.32 88.62 309.23 87.85 310.28 87.25 C311.33 86.65 312.18 86.38 313.68 85.95 C315.18 85.52 317.19 85.12 319.28 84.65 C321.36 84.18 322.53 83.78 326.18 83.15 C329.82 82.52 336.34 81.7 341.18 80.85 C346.01 80 351.04 78.93 355.18 78.05 C359.31 77.17 362.39 76.22 365.98 75.55 C369.56 74.88 373.48 74.42 376.68 74.05 C379.88 73.68 382.56 73.68 385.18 73.35 C387.79 73.02 390.38 72.5 392.38 72.05 C394.38 71.6 395.88 71.12 397.18 70.65 C398.48 70.18 399.18 69.83 400.18 69.25 C401.18 68.67 402.07 68.15 403.18 67.15 C404.28 66.15 405.58 64.43 406.78 63.25 C407.98 62.07 408.94 61.18 410.38 60.05 C411.81 58.92 413.82 57.53 415.38 56.45 C416.93 55.37 418.24 54.48 419.68 53.55 C421.11 52.62 422.54 51.82 423.98 50.85 C425.41 49.88 427.01 48.97 428.28 47.75 C429.54 46.53 430.71 45.12 431.57 43.55 C432.44 41.98 432.98 39.98 433.48 38.35 C433.98 36.72 434.39 34.52 434.57 33.75" fill="none" stroke="#e05860" stroke-width="1.5" stroke-linejoin="round" stroke-linecap="round"/>
<path d="M278.3 51.2 C278.4 51.57 278.72 52.8 278.9 53.4 C279.08 54 279.13 54.1 279.4 54.8 C279.67 55.5 280.08 56.63 280.5 57.6 C280.92 58.57 281.32 59.28 281.9 60.6 C282.48 61.92 283.13 63.97 284 65.5 C284.87 67.03 286.07 68.37 287.1 69.8 C288.13 71.23 289.17 72.7 290.2 74.1 C291.23 75.5 292.27 76.97 293.3 78.2 C294.33 79.43 295.37 80.63 296.4 81.5 C297.43 82.37 298.25 82.87 299.5 83.4 C300.75 83.93 302.67 84.37 303.9 84.7 C305.13 85.03 305.3 85.12 306.9 85.4 C308.5 85.68 311.47 85.98 313.5 86.4 C315.53 86.82 317.02 87.4 319.1 87.9 C321.18 88.4 322.7 88.45 326 89.4 C329.3 90.35 334.9 92.53 338.9 93.6 C342.9 94.67 346.72 95.15 350 95.8 C353.28 96.45 355.73 96.78 358.6 97.5 C361.47 98.22 364.33 99.12 367.2 100.1 C370.07 101.08 372.93 102.02 375.8 103.4 C378.67 104.78 381.52 106.68 384.4 108.4 C387.28 110.12 390.7 112.17 393.1 113.7 C395.5 115.23 397.45 116.45 398.8 117.6 C400.15 118.75 400.4 119.27 401.2 120.6 C402 121.93 402.77 123.73 403.6 125.6 C404.43 127.47 405.33 129.82 406.2 131.8 C407.07 133.78 407.82 136.03 408.8 137.5 C409.78 138.97 410.88 139.77 412.1 140.6 C413.32 141.43 414.78 141.88 416.1 142.5 C417.42 143.12 418.7 143.55 420 144.3 C421.3 145.05 422.7 145.78 423.9 147 C425.1 148.22 426.2 149.73 427.2 151.6 C428.2 153.47 429.08 156.12 429.9 158.2 C430.72 160.28 431.4 162.32 432.1 164.1 C432.8 165.88 433.77 168.1 434.1 168.9" fill="none" stroke="#8dc97f" stroke-width="2.05" stroke-linejoin="round" stroke-linecap="round"/>
<path d="M278.2 171.5 C278.23 169.58 278.32 163.88 278.4 160 C278.48 156.12 278.55 151.28 278.7 148.2 C278.85 145.12 279.07 143.4 279.3 141.5 C279.53 139.6 279.77 138.55 280.1 136.8 C280.43 135.05 280.85 132.88 281.3 131 C281.75 129.12 282.22 127.42 282.8 125.5 C283.38 123.58 284.03 121.4 284.8 119.5 C285.57 117.6 286.53 115.72 287.4 114.1 C288.27 112.48 289.07 111.13 290 109.8 C290.93 108.47 292 107.2 293 106.1 C294 105 295.05 104.13 296 103.2 C296.95 102.27 297.78 101.62 298.7 100.5 C299.62 99.38 300.55 97.83 301.5 96.5 C302.45 95.17 303.45 93.72 304.4 92.5 C305.35 91.28 306.25 90.13 307.2 89.2 C308.15 88.27 309.05 87.5 310.1 86.9 C311.15 86.3 312 86.03 313.5 85.6 C315 85.17 317.02 84.77 319.1 84.3 C321.18 83.83 322.35 83.43 326 82.8 C329.65 82.17 336.17 81.35 341 80.5 C345.83 79.65 350.87 78.58 355 77.7 C359.13 76.82 362.22 75.87 365.8 75.2 C369.38 74.53 373.3 74.07 376.5 73.7 C379.7 73.33 382.38 73.33 385 73 C387.62 72.67 390.2 72.15 392.2 71.7 C394.2 71.25 395.7 70.77 397 70.3 C398.3 69.83 399 69.48 400 68.9 C401 68.32 401.9 67.8 403 66.8 C404.1 65.8 405.4 64.08 406.6 62.9 C407.8 61.72 408.77 60.83 410.2 59.7 C411.63 58.57 413.65 57.18 415.2 56.1 C416.75 55.02 418.07 54.13 419.5 53.2 C420.93 52.27 422.37 51.47 423.8 50.5 C425.23 49.53 426.83 48.62 428.1 47.4 C429.37 46.18 430.53 44.77 431.4 43.2 C432.27 41.63 432.8 39.63 433.3 38 C433.8 36.37 434.22 34.17 434.4 33.4" fill="none" stroke="#8dc97f" stroke-width="2.05" stroke-linejoin="round" stroke-linecap="round"/>
<line x1="395.2" y1="80.6" x2="416.6" y2="80.6" stroke="#5879b6" stroke-width="1.6"/>
<text x="418.7" y="83.7" font-size="9" font-weight="bold" stroke="#1a1a1a" stroke-width="0.24" fill="#1a1a1a">8 th</text>
<line x1="395.2" y1="92.15" x2="416.6" y2="92.15" stroke="#e05860" stroke-width="1.6"/>
<text x="418.7" y="95.25" font-size="9" font-weight="bold" stroke="#1a1a1a" stroke-width="0.24" fill="#1a1a1a">9 th</text>
<line x1="395.2" y1="103.7" x2="416.6" y2="103.7" stroke="#8dc97f" stroke-width="1.6"/>
<text x="418.7" y="106.8" font-size="9" font-weight="bold" stroke="#1a1a1a" stroke-width="0.24" fill="#1a1a1a">10 th</text>
<text x="283" y="34.7" font-size="8.8" font-weight="bold" stroke="#1a1a1a" stroke-width="0.24" fill="#1a1a1a">Si<tspan dx="2.2" dy="-1.28" font-weight="normal" font-size="9.68" stroke="#1a1a1a" stroke-width="0.3">|</tspan><tspan dx="0.7" dy="1.28">LiBH</tspan><tspan dx="0" dy="2.38" font-size="6.34">4</tspan><tspan dx="1.6" dy="-3.65" font-weight="normal" font-size="9.68" stroke="#1a1a1a" stroke-width="0.3">|</tspan><tspan dx="1.7" dy="1.28">S</tspan></text>
<text x="282.9" y="48.1" font-size="8.65" font-weight="bold" stroke="#1a1a1a" stroke-width="0.24" fill="#1a1a1a">Series double cells</text>
<text x="282.9" y="59.2" font-size="8.65" font-weight="bold" stroke="#1a1a1a" stroke-width="0.24" fill="#1a1a1a">1.25 mA cm<tspan dy="-3.4" font-size="5.6">-2</tspan></text>
<text x="282.9" y="163.4" font-size="8.65" font-weight="bold" stroke="#1a1a1a" stroke-width="0.24" fill="#1a1a1a">22.5 mg cm<tspan dy="-3.4" font-size="5.6">-2</tspan><tspan dy="3.4"> (S)</tspan></text>
<text x="457.4" y="16.7" font-size="21" stroke="#000" stroke-width="0.35" fill="#000">c</text>
<line x1="490.3" y1="22.3" x2="490.3" y2="24.7" stroke="#7e7e7e" stroke-width="1"/>
<line x1="509.54" y1="22.3" x2="509.54" y2="23.7" stroke="#7e7e7e" stroke-width="1"/>
<line x1="528.77" y1="22.3" x2="528.77" y2="24.7" stroke="#7e7e7e" stroke-width="1"/>
<line x1="548.01" y1="22.3" x2="548.01" y2="23.7" stroke="#7e7e7e" stroke-width="1"/>
<line x1="567.24" y1="22.3" x2="567.24" y2="24.7" stroke="#7e7e7e" stroke-width="1"/>
<line x1="586.48" y1="22.3" x2="586.48" y2="23.7" stroke="#7e7e7e" stroke-width="1"/>
<line x1="605.71" y1="22.3" x2="605.71" y2="24.7" stroke="#7e7e7e" stroke-width="1"/>
<line x1="624.95" y1="22.3" x2="624.95" y2="23.7" stroke="#7e7e7e" stroke-width="1"/>
<line x1="644.18" y1="22.3" x2="644.18" y2="24.7" stroke="#7e7e7e" stroke-width="1"/>
<text x="0" y="0" font-size="8.8" text-anchor="middle" stroke="#1a1a1a" stroke-width="0.22" fill="#1a1a1a" transform="translate(490.3 17.7) scale(1 1.07)">0</text>
<text x="0" y="0" font-size="8.8" text-anchor="middle" stroke="#1a1a1a" stroke-width="0.22" fill="#1a1a1a" transform="translate(528.77 17.7) scale(1 1.07)">400</text>
<text x="0" y="0" font-size="8.8" text-anchor="middle" stroke="#1a1a1a" stroke-width="0.22" fill="#1a1a1a" transform="translate(567.24 17.7) scale(1 1.07)">800</text>
<text x="0" y="0" font-size="8.8" text-anchor="middle" stroke="#1a1a1a" stroke-width="0.22" fill="#1a1a1a" transform="translate(605.71 17.7) scale(1 1.07)">1200</text>
<text x="0" y="0" font-size="8.8" text-anchor="middle" stroke="#1a1a1a" stroke-width="0.22" fill="#1a1a1a" transform="translate(644.18 17.7) scale(1 1.07)">1600</text>
<text x="572.05" y="8.2" font-size="8.3" text-anchor="middle" stroke="#1a1a1a" stroke-width="0.22" fill="#1a1a1a">Specific Capacity (mAh g<tspan dy="-3.4" font-size="5.2">-1</tspan><tspan dy="3.4">)</tspan></text>
<line x1="490.3" y1="173.2" x2="490.3" y2="170.8" stroke="#7e7e7e" stroke-width="1"/>
<line x1="503.93" y1="173.2" x2="503.93" y2="171.8" stroke="#7e7e7e" stroke-width="1"/>
<line x1="517.55" y1="173.2" x2="517.55" y2="170.8" stroke="#7e7e7e" stroke-width="1"/>
<line x1="531.17" y1="173.2" x2="531.17" y2="171.8" stroke="#7e7e7e" stroke-width="1"/>
<line x1="544.8" y1="173.2" x2="544.8" y2="170.8" stroke="#7e7e7e" stroke-width="1"/>
<line x1="558.42" y1="173.2" x2="558.42" y2="171.8" stroke="#7e7e7e" stroke-width="1"/>
<line x1="572.05" y1="173.2" x2="572.05" y2="170.8" stroke="#7e7e7e" stroke-width="1"/>
<line x1="585.67" y1="173.2" x2="585.67" y2="171.8" stroke="#7e7e7e" stroke-width="1"/>
<line x1="599.3" y1="173.2" x2="599.3" y2="170.8" stroke="#7e7e7e" stroke-width="1"/>
<line x1="612.92" y1="173.2" x2="612.92" y2="171.8" stroke="#7e7e7e" stroke-width="1"/>
<line x1="626.55" y1="173.2" x2="626.55" y2="170.8" stroke="#7e7e7e" stroke-width="1"/>
<line x1="640.17" y1="173.2" x2="640.17" y2="171.8" stroke="#7e7e7e" stroke-width="1"/>
<line x1="653.8" y1="173.2" x2="653.8" y2="170.8" stroke="#7e7e7e" stroke-width="1"/>
<text x="0" y="0" font-size="8.8" text-anchor="middle" stroke="#1a1a1a" stroke-width="0.22" fill="#1a1a1a" transform="translate(490.3 183.1) scale(1 1.07)">0</text>
<text x="0" y="0" font-size="8.8" text-anchor="middle" stroke="#1a1a1a" stroke-width="0.22" fill="#1a1a1a" transform="translate(517.55 183.1) scale(1 1.07)">10</text>
<text x="0" y="0" font-size="8.8" text-anchor="middle" stroke="#1a1a1a" stroke-width="0.22" fill="#1a1a1a" transform="translate(544.8 183.1) scale(1 1.07)">20</text>
<text x="0" y="0" font-size="8.8" text-anchor="middle" stroke="#1a1a1a" stroke-width="0.22" fill="#1a1a1a" transform="translate(572.05 183.1) scale(1 1.07)">30</text>
<text x="0" y="0" font-size="8.8" text-anchor="middle" stroke="#1a1a1a" stroke-width="0.22" fill="#1a1a1a" transform="translate(599.3 183.1) scale(1 1.07)">40</text>
<text x="0" y="0" font-size="8.8" text-anchor="middle" stroke="#1a1a1a" stroke-width="0.22" fill="#1a1a1a" transform="translate(626.55 183.1) scale(1 1.07)">50</text>
<text x="0" y="0" font-size="8.8" text-anchor="middle" stroke="#1a1a1a" stroke-width="0.22" fill="#1a1a1a" transform="translate(653.8 183.1) scale(1 1.07)">60</text>
<text x="572.05" y="191.3" font-size="8.9" text-anchor="middle" stroke="#1a1a1a" stroke-width="0.22" fill="#1a1a1a">Capacity (mAh)</text>
<line x1="490.3" y1="173.2" x2="492.7" y2="173.2" stroke="#7e7e7e" stroke-width="1"/>
<line x1="490.3" y1="161.59" x2="491.7" y2="161.59" stroke="#7e7e7e" stroke-width="1"/>
<line x1="490.3" y1="149.98" x2="492.7" y2="149.98" stroke="#7e7e7e" stroke-width="1"/>
<line x1="490.3" y1="138.38" x2="491.7" y2="138.38" stroke="#7e7e7e" stroke-width="1"/>
<line x1="490.3" y1="126.77" x2="492.7" y2="126.77" stroke="#7e7e7e" stroke-width="1"/>
<line x1="490.3" y1="115.16" x2="491.7" y2="115.16" stroke="#7e7e7e" stroke-width="1"/>
<line x1="490.3" y1="103.55" x2="492.7" y2="103.55" stroke="#7e7e7e" stroke-width="1"/>
<line x1="490.3" y1="91.95" x2="491.7" y2="91.95" stroke="#7e7e7e" stroke-width="1"/>
<line x1="490.3" y1="80.34" x2="492.7" y2="80.34" stroke="#7e7e7e" stroke-width="1"/>
<line x1="490.3" y1="68.73" x2="491.7" y2="68.73" stroke="#7e7e7e" stroke-width="1"/>
<line x1="490.3" y1="57.12" x2="492.7" y2="57.12" stroke="#7e7e7e" stroke-width="1"/>
<line x1="490.3" y1="45.52" x2="491.7" y2="45.52" stroke="#7e7e7e" stroke-width="1"/>
<line x1="490.3" y1="33.91" x2="492.7" y2="33.91" stroke="#7e7e7e" stroke-width="1"/>
<line x1="490.3" y1="22.3" x2="491.7" y2="22.3" stroke="#7e7e7e" stroke-width="1"/>
<text x="0" y="0" font-size="8.8" text-anchor="end" stroke="#1a1a1a" stroke-width="0.22" fill="#1a1a1a" transform="translate(487.7 176.44) scale(1 1.07)">0.0</text>
<text x="0" y="0" font-size="8.8" text-anchor="end" stroke="#1a1a1a" stroke-width="0.22" fill="#1a1a1a" transform="translate(487.7 153.22) scale(1 1.07)">0.5</text>
<text x="0" y="0" font-size="8.8" text-anchor="end" stroke="#1a1a1a" stroke-width="0.22" fill="#1a1a1a" transform="translate(487.7 130.01) scale(1 1.07)">1.0</text>
<text x="0" y="0" font-size="8.8" text-anchor="end" stroke="#1a1a1a" stroke-width="0.22" fill="#1a1a1a" transform="translate(487.7 106.79) scale(1 1.07)">1.5</text>
<text x="0" y="0" font-size="8.8" text-anchor="end" stroke="#1a1a1a" stroke-width="0.22" fill="#1a1a1a" transform="translate(487.7 83.58) scale(1 1.07)">2.0</text>
<text x="0" y="0" font-size="8.8" text-anchor="end" stroke="#1a1a1a" stroke-width="0.22" fill="#1a1a1a" transform="translate(487.7 60.36) scale(1 1.07)">2.5</text>
<text x="0" y="0" font-size="8.8" text-anchor="end" stroke="#1a1a1a" stroke-width="0.22" fill="#1a1a1a" transform="translate(487.7 37.15) scale(1 1.07)">3.0</text>
<text x="468.3" y="95.15" font-size="9" text-anchor="middle" stroke="#1a1a1a" stroke-width="0.22" fill="#1a1a1a" transform="rotate(-90 468.3 95.15)">Voltage (V)</text>
<line x1="490.3" y1="22.3" x2="653.8" y2="22.3" stroke="#6e6e6e" stroke-width="1" stroke-linecap="square"/>
<line x1="490.3" y1="173.2" x2="653.8" y2="173.2" stroke="#6e6e6e" stroke-width="1" stroke-linecap="square"/>
<line x1="490.3" y1="22.3" x2="490.3" y2="173.2" stroke="#777777" stroke-width="1" stroke-linecap="square"/>
<line x1="653.8" y1="22.3" x2="653.8" y2="173.2" stroke="#6e6e6e" stroke-width="1" stroke-linecap="square"/>
<line x1="490.3" y1="196" x2="653.11" y2="196" stroke="#a8a8a8" stroke-width="0.9"/>
<line x1="490.3" y1="196" x2="490.3" y2="193.6" stroke="#a8a8a8" stroke-width="0.9"/>
<line x1="500.95" y1="196" x2="500.95" y2="194.6" stroke="#a8a8a8" stroke-width="0.9"/>
<line x1="511.61" y1="196" x2="511.61" y2="193.6" stroke="#a8a8a8" stroke-width="0.9"/>
<line x1="522.26" y1="196" x2="522.26" y2="194.6" stroke="#a8a8a8" stroke-width="0.9"/>
<line x1="532.92" y1="196" x2="532.92" y2="193.6" stroke="#a8a8a8" stroke-width="0.9"/>
<line x1="543.58" y1="196" x2="543.58" y2="194.6" stroke="#a8a8a8" stroke-width="0.9"/>
<line x1="554.23" y1="196" x2="554.23" y2="193.6" stroke="#a8a8a8" stroke-width="0.9"/>
<line x1="564.88" y1="196" x2="564.88" y2="194.6" stroke="#a8a8a8" stroke-width="0.9"/>
<line x1="575.54" y1="196" x2="575.54" y2="193.6" stroke="#a8a8a8" stroke-width="0.9"/>
<line x1="586.2" y1="196" x2="586.2" y2="194.6" stroke="#a8a8a8" stroke-width="0.9"/>
<line x1="596.85" y1="196" x2="596.85" y2="193.6" stroke="#a8a8a8" stroke-width="0.9"/>
<line x1="607.5" y1="196" x2="607.5" y2="194.6" stroke="#a8a8a8" stroke-width="0.9"/>
<line x1="618.16" y1="196" x2="618.16" y2="193.6" stroke="#a8a8a8" stroke-width="0.9"/>
<line x1="628.82" y1="196" x2="628.82" y2="194.6" stroke="#a8a8a8" stroke-width="0.9"/>
<line x1="639.47" y1="196" x2="639.47" y2="193.6" stroke="#a8a8a8" stroke-width="0.9"/>
<line x1="650.12" y1="196" x2="650.12" y2="194.6" stroke="#a8a8a8" stroke-width="0.9"/>
<text x="0" y="0" font-size="8.8" text-anchor="middle" stroke="#1a1a1a" stroke-width="0.22" fill="#1a1a1a" transform="translate(490.3 205.6) scale(1 1.07)">0</text>
<text x="0" y="0" font-size="8.8" text-anchor="middle" stroke="#1a1a1a" stroke-width="0.22" fill="#1a1a1a" transform="translate(511.61 205.6) scale(1 1.07)">5</text>
<text x="0" y="0" font-size="8.8" text-anchor="middle" stroke="#1a1a1a" stroke-width="0.22" fill="#1a1a1a" transform="translate(532.92 205.6) scale(1 1.07)">10</text>
<text x="0" y="0" font-size="8.8" text-anchor="middle" stroke="#1a1a1a" stroke-width="0.22" fill="#1a1a1a" transform="translate(554.23 205.6) scale(1 1.07)">15</text>
<text x="0" y="0" font-size="8.8" text-anchor="middle" stroke="#1a1a1a" stroke-width="0.22" fill="#1a1a1a" transform="translate(575.54 205.6) scale(1 1.07)">20</text>
<text x="0" y="0" font-size="8.8" text-anchor="middle" stroke="#1a1a1a" stroke-width="0.22" fill="#1a1a1a" transform="translate(596.85 205.6) scale(1 1.07)">25</text>
<text x="0" y="0" font-size="8.8" text-anchor="middle" stroke="#1a1a1a" stroke-width="0.22" fill="#1a1a1a" transform="translate(618.16 205.6) scale(1 1.07)">30</text>
<text x="0" y="0" font-size="8.8" text-anchor="middle" stroke="#1a1a1a" stroke-width="0.22" fill="#1a1a1a" transform="translate(639.47 205.6) scale(1 1.07)">35</text>
<text x="572.05" y="214.8" font-size="8.15" text-anchor="middle" stroke="#1a1a1a" stroke-width="0.22" fill="#1a1a1a">Areal Capacity (mAh cm<tspan dy="-3.4" font-size="5.2">-2</tspan><tspan dy="3.4">)</tspan></text>
<path d="M490.55 48.3 C490.6 48.95 490.65 51.07 490.85 52.2 C491.05 53.33 491.37 54.17 491.75 55.1 C492.13 56.03 492.63 56.87 493.15 57.8 C493.67 58.73 494.25 59.73 494.85 60.7 C495.45 61.67 496.13 62.63 496.75 63.6 C497.37 64.57 497.97 65.55 498.55 66.5 C499.13 67.45 499.5 68 500.25 69.3 C501 70.6 501.92 72.57 503.05 74.3 C504.18 76.03 505.73 78.23 507.05 79.7 C508.37 81.17 509.42 82.18 510.95 83.1 C512.48 84.02 513.83 84.57 516.25 85.2 C518.67 85.83 522.98 86.38 525.45 86.9 C527.92 87.42 528.97 87.8 531.05 88.3 C533.13 88.8 534.87 89.1 537.95 89.9 C541.03 90.7 545.88 92.25 549.55 93.1 C553.22 93.95 556.78 94.38 559.95 95 C563.12 95.62 565.68 96.08 568.55 96.8 C571.42 97.52 574.28 98.33 577.15 99.3 C580.02 100.27 582.88 101.23 585.75 102.6 C588.62 103.97 591.47 105.83 594.35 107.5 C597.23 109.17 600.42 110.98 603.05 112.6 C605.68 114.22 608.53 115.93 610.15 117.2 C611.77 118.47 611.8 118.98 612.75 120.2 C613.7 121.42 614.9 122.62 615.85 124.5 C616.8 126.38 617.57 129.23 618.45 131.5 C619.33 133.77 620.05 136.45 621.15 138.1 C622.25 139.75 623.73 140.5 625.05 141.4 C626.37 142.3 627.62 142.7 629.05 143.5 C630.48 144.3 632.23 145.08 633.65 146.2 C635.07 147.32 636.35 148.67 637.55 150.2 C638.75 151.73 639.75 153.32 640.85 155.4 C641.95 157.48 643.1 160.47 644.15 162.7 C645.2 164.93 646.65 167.78 647.15 168.8" fill="none" stroke="#5879b6" stroke-width="1.5" stroke-linejoin="round" stroke-linecap="round"/>
<path d="M490.55 165.4 C490.58 163.65 490.68 157.78 490.75 154.9 C490.82 152.02 490.85 151.13 490.95 148.1 C491.05 145.07 491.18 139.57 491.35 136.7 C491.52 133.83 491.68 132.78 491.95 130.9 C492.22 129.02 492.55 127.15 492.95 125.4 C493.35 123.65 493.85 121.92 494.35 120.4 C494.85 118.88 495.27 117.58 495.95 116.3 C496.63 115.02 497.52 113.85 498.45 112.7 C499.38 111.55 500.47 110.53 501.55 109.4 C502.63 108.27 503.8 107.03 504.95 105.9 C506.1 104.77 507.28 103.68 508.45 102.6 C509.62 101.52 510.82 100.53 511.95 99.4 C513.08 98.27 514.32 96.88 515.25 95.8 C516.18 94.72 516.8 93.85 517.55 92.9 C518.3 91.95 518.93 90.97 519.75 90.1 C520.57 89.23 521.5 88.42 522.45 87.7 C523.4 86.98 524.2 86.35 525.45 85.8 C526.7 85.25 527.73 84.92 529.95 84.4 C532.17 83.88 534.4 83.45 538.75 82.7 C543.1 81.95 550.85 80.8 556.05 79.9 C561.25 79 565.83 78.13 569.95 77.3 C574.07 76.47 577.17 75.57 580.75 74.9 C584.33 74.23 588.75 73.65 591.45 73.3 C594.15 72.95 594.83 73.1 596.95 72.8 C599.07 72.5 601.75 72.13 604.15 71.5 C606.55 70.87 609.43 69.85 611.35 69 C613.27 68.15 614.47 67.37 615.65 66.4 C616.83 65.43 617.38 64.27 618.45 63.2 C619.52 62.13 620.6 61.12 622.05 60 C623.5 58.88 625.67 57.53 627.15 56.5 C628.63 55.47 629.48 54.78 630.95 53.8 C632.42 52.82 634.22 51.72 635.95 50.6 C637.68 49.48 639.95 48.35 641.35 47.1 C642.75 45.85 643.63 44.63 644.35 43.1 C645.07 41.57 645.25 39.57 645.65 37.9 C646.05 36.23 646.57 33.9 646.75 33.1" fill="none" stroke="#5879b6" stroke-width="1.5" stroke-linejoin="round" stroke-linecap="round"/>
<path d="M490.78 48.75 C490.83 49.4 490.88 51.52 491.07 52.65 C491.27 53.78 491.59 54.62 491.98 55.55 C492.36 56.48 492.86 57.32 493.38 58.25 C493.89 59.18 494.47 60.18 495.07 61.15 C495.68 62.12 496.36 63.08 496.98 64.05 C497.59 65.02 498.19 66 498.78 66.95 C499.36 67.9 499.73 68.45 500.48 69.75 C501.23 71.05 502.14 73.02 503.28 74.75 C504.41 76.48 505.96 78.68 507.28 80.15 C508.59 81.62 509.64 82.63 511.18 83.55 C512.71 84.47 514.06 85.02 516.47 85.65 C518.89 86.28 523.21 86.83 525.67 87.35 C528.14 87.87 529.19 88.25 531.27 88.75 C533.36 89.25 535.09 89.55 538.17 90.35 C541.26 91.15 546.11 92.7 549.77 93.55 C553.44 94.4 557.01 94.83 560.17 95.45 C563.34 96.07 565.91 96.53 568.77 97.25 C571.64 97.97 574.51 98.78 577.38 99.75 C580.24 100.72 583.11 101.68 585.97 103.05 C588.84 104.42 591.69 106.28 594.57 107.95 C597.46 109.62 600.64 111.43 603.27 113.05 C605.91 114.67 608.76 116.38 610.38 117.65 C611.99 118.92 612.02 119.43 612.97 120.65 C613.92 121.87 615.12 123.07 616.07 124.95 C617.02 126.83 617.79 129.68 618.67 131.95 C619.56 134.22 620.27 136.9 621.38 138.55 C622.48 140.2 623.96 140.95 625.27 141.85 C626.59 142.75 627.84 143.15 629.27 143.95 C630.71 144.75 632.46 145.53 633.88 146.65 C635.29 147.77 636.58 149.12 637.77 150.65 C638.97 152.18 639.97 153.77 641.07 155.85 C642.17 157.93 643.33 160.92 644.38 163.15 C645.42 165.38 646.88 168.23 647.38 169.25" fill="none" stroke="#e05860" stroke-width="1.5" stroke-linejoin="round" stroke-linecap="round"/>
<path d="M490.78 165.85 C490.81 164.1 490.91 158.23 490.98 155.35 C491.04 152.47 491.08 151.58 491.18 148.55 C491.27 145.52 491.41 140.02 491.57 137.15 C491.74 134.28 491.91 133.23 492.18 131.35 C492.44 129.47 492.78 127.6 493.18 125.85 C493.57 124.1 494.07 122.37 494.57 120.85 C495.07 119.33 495.49 118.03 496.18 116.75 C496.86 115.47 497.74 114.3 498.68 113.15 C499.61 112 500.69 110.98 501.78 109.85 C502.86 108.72 504.03 107.48 505.18 106.35 C506.32 105.22 507.51 104.13 508.68 103.05 C509.84 101.97 511.04 100.98 512.17 99.85 C513.31 98.72 514.54 97.33 515.47 96.25 C516.41 95.17 517.02 94.3 517.77 93.35 C518.52 92.4 519.16 91.42 519.97 90.55 C520.79 89.68 521.72 88.87 522.67 88.15 C523.62 87.43 524.42 86.8 525.67 86.25 C526.92 85.7 527.96 85.37 530.17 84.85 C532.39 84.33 534.62 83.9 538.97 83.15 C543.32 82.4 551.07 81.25 556.27 80.35 C561.48 79.45 566.06 78.58 570.17 77.75 C574.29 76.92 577.39 76.02 580.97 75.35 C584.56 74.68 588.97 74.1 591.67 73.75 C594.38 73.4 595.06 73.55 597.17 73.25 C599.29 72.95 601.98 72.58 604.38 71.95 C606.77 71.32 609.66 70.3 611.57 69.45 C613.49 68.6 614.69 67.82 615.88 66.85 C617.06 65.88 617.61 64.72 618.67 63.65 C619.74 62.58 620.82 61.57 622.27 60.45 C623.73 59.33 625.89 57.98 627.38 56.95 C628.86 55.92 629.71 55.23 631.17 54.25 C632.64 53.27 634.44 52.17 636.17 51.05 C637.91 49.93 640.17 48.8 641.57 47.55 C642.97 46.3 643.86 45.08 644.57 43.55 C645.29 42.02 645.48 40.02 645.88 38.35 C646.27 36.68 646.79 34.35 646.97 33.55" fill="none" stroke="#e05860" stroke-width="1.5" stroke-linejoin="round" stroke-linecap="round"/>
<path d="M490.6 48.4 C490.65 49.05 490.7 51.17 490.9 52.3 C491.1 53.43 491.42 54.27 491.8 55.2 C492.18 56.13 492.68 56.97 493.2 57.9 C493.72 58.83 494.3 59.83 494.9 60.8 C495.5 61.77 496.18 62.73 496.8 63.7 C497.42 64.67 498.02 65.65 498.6 66.6 C499.18 67.55 499.55 68.1 500.3 69.4 C501.05 70.7 501.97 72.67 503.1 74.4 C504.23 76.13 505.78 78.33 507.1 79.8 C508.42 81.27 509.47 82.28 511 83.2 C512.53 84.12 513.88 84.67 516.3 85.3 C518.72 85.93 523.03 86.48 525.5 87 C527.97 87.52 529.02 87.9 531.1 88.4 C533.18 88.9 534.92 89.2 538 90 C541.08 90.8 545.93 92.35 549.6 93.2 C553.27 94.05 556.83 94.48 560 95.1 C563.17 95.72 565.73 96.18 568.6 96.9 C571.47 97.62 574.33 98.43 577.2 99.4 C580.07 100.37 582.93 101.33 585.8 102.7 C588.67 104.07 591.52 105.93 594.4 107.6 C597.28 109.27 600.47 111.08 603.1 112.7 C605.73 114.32 608.58 116.03 610.2 117.3 C611.82 118.57 611.85 119.08 612.8 120.3 C613.75 121.52 614.95 122.72 615.9 124.6 C616.85 126.48 617.62 129.33 618.5 131.6 C619.38 133.87 620.1 136.55 621.2 138.2 C622.3 139.85 623.78 140.6 625.1 141.5 C626.42 142.4 627.67 142.8 629.1 143.6 C630.53 144.4 632.28 145.18 633.7 146.3 C635.12 147.42 636.4 148.77 637.6 150.3 C638.8 151.83 639.8 153.42 640.9 155.5 C642 157.58 643.15 160.57 644.2 162.8 C645.25 165.03 646.7 167.88 647.2 168.9" fill="none" stroke="#8dc97f" stroke-width="2.05" stroke-linejoin="round" stroke-linecap="round"/>
<path d="M490.6 165.5 C490.63 163.75 490.73 157.88 490.8 155 C490.87 152.12 490.9 151.23 491 148.2 C491.1 145.17 491.23 139.67 491.4 136.8 C491.57 133.93 491.73 132.88 492 131 C492.27 129.12 492.6 127.25 493 125.5 C493.4 123.75 493.9 122.02 494.4 120.5 C494.9 118.98 495.32 117.68 496 116.4 C496.68 115.12 497.57 113.95 498.5 112.8 C499.43 111.65 500.52 110.63 501.6 109.5 C502.68 108.37 503.85 107.13 505 106 C506.15 104.87 507.33 103.78 508.5 102.7 C509.67 101.62 510.87 100.63 512 99.5 C513.13 98.37 514.37 96.98 515.3 95.9 C516.23 94.82 516.85 93.95 517.6 93 C518.35 92.05 518.98 91.07 519.8 90.2 C520.62 89.33 521.55 88.52 522.5 87.8 C523.45 87.08 524.25 86.45 525.5 85.9 C526.75 85.35 527.78 85.02 530 84.5 C532.22 83.98 534.45 83.55 538.8 82.8 C543.15 82.05 550.9 80.9 556.1 80 C561.3 79.1 565.88 78.23 570 77.4 C574.12 76.57 577.22 75.67 580.8 75 C584.38 74.33 588.8 73.75 591.5 73.4 C594.2 73.05 594.88 73.2 597 72.9 C599.12 72.6 601.8 72.23 604.2 71.6 C606.6 70.97 609.48 69.95 611.4 69.1 C613.32 68.25 614.52 67.47 615.7 66.5 C616.88 65.53 617.43 64.37 618.5 63.3 C619.57 62.23 620.65 61.22 622.1 60.1 C623.55 58.98 625.72 57.63 627.2 56.6 C628.68 55.57 629.53 54.88 631 53.9 C632.47 52.92 634.27 51.82 636 50.7 C637.73 49.58 640 48.45 641.4 47.2 C642.8 45.95 643.68 44.73 644.4 43.2 C645.12 41.67 645.3 39.67 645.7 38 C646.1 36.33 646.62 34 646.8 33.2" fill="none" stroke="#8dc97f" stroke-width="2.05" stroke-linejoin="round" stroke-linecap="round"/>
<line x1="607.4" y1="80.6" x2="628.8" y2="80.6" stroke="#5879b6" stroke-width="1.6"/>
<text x="630.9" y="83.7" font-size="9" font-weight="bold" stroke="#1a1a1a" stroke-width="0.24" fill="#1a1a1a">8 th</text>
<line x1="607.4" y1="92.15" x2="628.8" y2="92.15" stroke="#e05860" stroke-width="1.6"/>
<text x="630.9" y="95.25" font-size="9" font-weight="bold" stroke="#1a1a1a" stroke-width="0.24" fill="#1a1a1a">9 th</text>
<line x1="607.4" y1="103.7" x2="628.8" y2="103.7" stroke="#8dc97f" stroke-width="1.6"/>
<text x="630.9" y="106.8" font-size="9" font-weight="bold" stroke="#1a1a1a" stroke-width="0.24" fill="#1a1a1a">10 th</text>
<text x="495" y="34.7" font-size="8.8" font-weight="bold" stroke="#1a1a1a" stroke-width="0.24" fill="#1a1a1a">Si<tspan dx="1.4" dy="-1.28" font-weight="normal" font-size="9.68" stroke="#1a1a1a" stroke-width="0.3">|</tspan><tspan dx="1.5" dy="1.28">LiBH</tspan><tspan dx="0" dy="2.38" font-size="6.34">4</tspan><tspan dx="1.3" dy="-3.65" font-weight="normal" font-size="9.68" stroke="#1a1a1a" stroke-width="0.3">|</tspan><tspan dx="2" dy="1.28">S</tspan></text>
<text x="495.3" y="48.1" font-size="8.65" font-weight="bold" stroke="#1a1a1a" stroke-width="0.24" fill="#1a1a1a">Parallel double cells</text>
<text x="495.3" y="59.2" font-size="8.65" font-weight="bold" stroke="#1a1a1a" stroke-width="0.24" fill="#1a1a1a">1.25 mA cm<tspan dy="-3.4" font-size="5.6">-2</tspan></text>
<text x="495.3" y="163.4" font-size="8.65" font-weight="bold" stroke="#1a1a1a" stroke-width="0.24" fill="#1a1a1a">22.5 mg cm<tspan dy="-3.4" font-size="5.6">-2</tspan><tspan dy="3.4"> (S)</tspan></text>
<text x="2.8" y="239.4" font-size="21" stroke="#000" stroke-width="0.35" fill="#000">d</text>
<line x1="41.4" y1="239.3" x2="41.4" y2="241.7" stroke="#7e7e7e" stroke-width="1"/>
<line x1="60.59" y1="239.3" x2="60.59" y2="240.7" stroke="#7e7e7e" stroke-width="1"/>
<line x1="79.78" y1="239.3" x2="79.78" y2="241.7" stroke="#7e7e7e" stroke-width="1"/>
<line x1="98.96" y1="239.3" x2="98.96" y2="240.7" stroke="#7e7e7e" stroke-width="1"/>
<line x1="118.15" y1="239.3" x2="118.15" y2="241.7" stroke="#7e7e7e" stroke-width="1"/>
<line x1="137.34" y1="239.3" x2="137.34" y2="240.7" stroke="#7e7e7e" stroke-width="1"/>
<line x1="156.53" y1="239.3" x2="156.53" y2="241.7" stroke="#7e7e7e" stroke-width="1"/>
<line x1="175.72" y1="239.3" x2="175.72" y2="240.7" stroke="#7e7e7e" stroke-width="1"/>
<line x1="194.91" y1="239.3" x2="194.91" y2="241.7" stroke="#7e7e7e" stroke-width="1"/>
<text x="0" y="0" font-size="8.6" text-anchor="middle" stroke="#1a1a1a" stroke-width="0.22" fill="#1a1a1a" transform="translate(41.4 235.1) scale(1 1.07)">0</text>
<text x="0" y="0" font-size="8.6" text-anchor="middle" stroke="#1a1a1a" stroke-width="0.22" fill="#1a1a1a" transform="translate(79.78 235.1) scale(1 1.07)">400</text>
<text x="0" y="0" font-size="8.6" text-anchor="middle" stroke="#1a1a1a" stroke-width="0.22" fill="#1a1a1a" transform="translate(118.15 235.1) scale(1 1.07)">800</text>
<text x="0" y="0" font-size="8.6" text-anchor="middle" stroke="#1a1a1a" stroke-width="0.22" fill="#1a1a1a" transform="translate(156.53 235.1) scale(1 1.07)">1200</text>
<text x="0" y="0" font-size="8.6" text-anchor="middle" stroke="#1a1a1a" stroke-width="0.22" fill="#1a1a1a" transform="translate(194.91 235.1) scale(1 1.07)">1600</text>
<text x="122.95" y="224.2" font-size="8.3" text-anchor="middle" stroke="#1a1a1a" stroke-width="0.22" fill="#1a1a1a">Specific Capacity (mAh g<tspan dy="-3.4" font-size="5.2">-1</tspan><tspan dy="3.4">)</tspan></text>
<line x1="41.4" y1="390.1" x2="41.4" y2="387.7" stroke="#7e7e7e" stroke-width="1"/>
<line x1="53.95" y1="390.1" x2="53.95" y2="388.7" stroke="#7e7e7e" stroke-width="1"/>
<line x1="66.49" y1="390.1" x2="66.49" y2="387.7" stroke="#7e7e7e" stroke-width="1"/>
<line x1="79.04" y1="390.1" x2="79.04" y2="388.7" stroke="#7e7e7e" stroke-width="1"/>
<line x1="91.58" y1="390.1" x2="91.58" y2="387.7" stroke="#7e7e7e" stroke-width="1"/>
<line x1="104.13" y1="390.1" x2="104.13" y2="388.7" stroke="#7e7e7e" stroke-width="1"/>
<line x1="116.68" y1="390.1" x2="116.68" y2="387.7" stroke="#7e7e7e" stroke-width="1"/>
<line x1="129.22" y1="390.1" x2="129.22" y2="388.7" stroke="#7e7e7e" stroke-width="1"/>
<line x1="141.77" y1="390.1" x2="141.77" y2="387.7" stroke="#7e7e7e" stroke-width="1"/>
<line x1="154.32" y1="390.1" x2="154.32" y2="388.7" stroke="#7e7e7e" stroke-width="1"/>
<line x1="166.86" y1="390.1" x2="166.86" y2="387.7" stroke="#7e7e7e" stroke-width="1"/>
<line x1="179.41" y1="390.1" x2="179.41" y2="388.7" stroke="#7e7e7e" stroke-width="1"/>
<line x1="191.95" y1="390.1" x2="191.95" y2="387.7" stroke="#7e7e7e" stroke-width="1"/>
<line x1="204.5" y1="390.1" x2="204.5" y2="388.7" stroke="#7e7e7e" stroke-width="1"/>
<text x="0" y="0" font-size="8.6" text-anchor="middle" stroke="#1a1a1a" stroke-width="0.22" fill="#1a1a1a" transform="translate(41.4 400.3) scale(1 1.07)">0.0</text>
<text x="0" y="0" font-size="8.6" text-anchor="middle" stroke="#1a1a1a" stroke-width="0.22" fill="#1a1a1a" transform="translate(66.49 400.3) scale(1 1.07)">0.2</text>
<text x="0" y="0" font-size="8.6" text-anchor="middle" stroke="#1a1a1a" stroke-width="0.22" fill="#1a1a1a" transform="translate(91.58 400.3) scale(1 1.07)">0.4</text>
<text x="0" y="0" font-size="8.6" text-anchor="middle" stroke="#1a1a1a" stroke-width="0.22" fill="#1a1a1a" transform="translate(116.68 400.3) scale(1 1.07)">0.6</text>
<text x="0" y="0" font-size="8.6" text-anchor="middle" stroke="#1a1a1a" stroke-width="0.22" fill="#1a1a1a" transform="translate(141.77 400.3) scale(1 1.07)">0.8</text>
<text x="0" y="0" font-size="8.6" text-anchor="middle" stroke="#1a1a1a" stroke-width="0.22" fill="#1a1a1a" transform="translate(166.86 400.3) scale(1 1.07)">1.0</text>
<text x="0" y="0" font-size="8.6" text-anchor="middle" stroke="#1a1a1a" stroke-width="0.22" fill="#1a1a1a" transform="translate(191.95 400.3) scale(1 1.07)">1.2</text>
<text x="122.95" y="410.2" font-size="8.6" text-anchor="middle" stroke="#1a1a1a" stroke-width="0.22" fill="#1a1a1a">Capacity (Ah)</text>
<line x1="41.4" y1="390.1" x2="43.8" y2="390.1" stroke="#7e7e7e" stroke-width="1"/>
<line x1="41.4" y1="378.5" x2="42.8" y2="378.5" stroke="#7e7e7e" stroke-width="1"/>
<line x1="41.4" y1="366.9" x2="43.8" y2="366.9" stroke="#7e7e7e" stroke-width="1"/>
<line x1="41.4" y1="355.3" x2="42.8" y2="355.3" stroke="#7e7e7e" stroke-width="1"/>
<line x1="41.4" y1="343.7" x2="43.8" y2="343.7" stroke="#7e7e7e" stroke-width="1"/>
<line x1="41.4" y1="332.1" x2="42.8" y2="332.1" stroke="#7e7e7e" stroke-width="1"/>
<line x1="41.4" y1="320.5" x2="43.8" y2="320.5" stroke="#7e7e7e" stroke-width="1"/>
<line x1="41.4" y1="308.9" x2="42.8" y2="308.9" stroke="#7e7e7e" stroke-width="1"/>
<line x1="41.4" y1="297.3" x2="43.8" y2="297.3" stroke="#7e7e7e" stroke-width="1"/>
<line x1="41.4" y1="285.7" x2="42.8" y2="285.7" stroke="#7e7e7e" stroke-width="1"/>
<line x1="41.4" y1="274.1" x2="43.8" y2="274.1" stroke="#7e7e7e" stroke-width="1"/>
<line x1="41.4" y1="262.5" x2="42.8" y2="262.5" stroke="#7e7e7e" stroke-width="1"/>
<line x1="41.4" y1="250.9" x2="43.8" y2="250.9" stroke="#7e7e7e" stroke-width="1"/>
<line x1="41.4" y1="239.3" x2="42.8" y2="239.3" stroke="#7e7e7e" stroke-width="1"/>
<text x="0" y="0" font-size="8.6" text-anchor="end" stroke="#1a1a1a" stroke-width="0.22" fill="#1a1a1a" transform="translate(38.8 393.27) scale(1 1.07)">0.0</text>
<text x="0" y="0" font-size="8.6" text-anchor="end" stroke="#1a1a1a" stroke-width="0.22" fill="#1a1a1a" transform="translate(38.8 370.07) scale(1 1.07)">0.5</text>
<text x="0" y="0" font-size="8.6" text-anchor="end" stroke="#1a1a1a" stroke-width="0.22" fill="#1a1a1a" transform="translate(38.8 346.87) scale(1 1.07)">1.0</text>
<text x="0" y="0" font-size="8.6" text-anchor="end" stroke="#1a1a1a" stroke-width="0.22" fill="#1a1a1a" transform="translate(38.8 323.67) scale(1 1.07)">1.5</text>
<text x="0" y="0" font-size="8.6" text-anchor="end" stroke="#1a1a1a" stroke-width="0.22" fill="#1a1a1a" transform="translate(38.8 300.47) scale(1 1.07)">2.0</text>
<text x="0" y="0" font-size="8.6" text-anchor="end" stroke="#1a1a1a" stroke-width="0.22" fill="#1a1a1a" transform="translate(38.8 277.27) scale(1 1.07)">2.5</text>
<text x="0" y="0" font-size="8.6" text-anchor="end" stroke="#1a1a1a" stroke-width="0.22" fill="#1a1a1a" transform="translate(38.8 254.07) scale(1 1.07)">3.0</text>
<text x="17.8" y="311.9" font-size="9" text-anchor="middle" stroke="#1a1a1a" stroke-width="0.22" fill="#1a1a1a" transform="rotate(-90 17.8 311.9)">Voltage (V)</text>
<line x1="41.4" y1="239.3" x2="204.5" y2="239.3" stroke="#747474" stroke-width="1" stroke-linecap="square"/>
<line x1="41.4" y1="390.1" x2="204.5" y2="390.1" stroke="#747474" stroke-width="1" stroke-linecap="square"/>
<line x1="41.4" y1="239.3" x2="41.4" y2="390.1" stroke="#777777" stroke-width="1" stroke-linecap="square"/>
<line x1="204.5" y1="239.3" x2="204.5" y2="390.1" stroke="#747474" stroke-width="1" stroke-linecap="square"/>
<path d="M41.6 300.8 C41.63 301.58 41.68 304.2 41.8 305.5 C41.92 306.8 42.1 307.83 42.3 308.6 C42.5 309.37 42.68 309.72 43 310.1 C43.32 310.48 43.53 310.62 44.2 310.9 C44.87 311.18 45.95 311.52 47 311.8 C48.05 312.08 48.15 312.2 50.5 312.6 C52.85 313 57.85 313.75 61.1 314.2 C64.35 314.65 66.68 314.9 70 315.3 C73.32 315.7 77.67 316.2 81 316.6 C84.33 317 86.83 317.2 90 317.7 C93.17 318.2 96.67 319.07 100 319.6 C103.33 320.13 106.67 320.47 110 320.9 C113.33 321.33 116.67 321.58 120 322.2 C123.33 322.82 126.9 323.7 130 324.6 C133.1 325.5 136.1 326.77 138.6 327.6 C141.1 328.43 143.1 328.92 145 329.6 C146.9 330.28 148.22 330.85 150 331.7 C151.78 332.55 153.78 333.4 155.7 334.7 C157.62 336 159.75 337.77 161.5 339.5 C163.25 341.23 164.93 343.22 166.2 345.1 C167.47 346.98 168.22 348.92 169.1 350.8 C169.98 352.68 170.55 354.63 171.5 356.4 C172.45 358.17 173.77 359.92 174.8 361.4 C175.83 362.88 176.67 363.9 177.7 365.3 C178.73 366.7 179.63 367.8 181 369.8 C182.37 371.8 184.03 374.77 185.9 377.3 C187.77 379.83 191.15 383.72 192.2 385" fill="none" stroke="#5879b6" stroke-width="1.6" stroke-linejoin="round" stroke-linecap="round"/>
<path d="M41.3 377 C41.35 374 41.42 364 41.6 359 C41.78 354 42.12 350.33 42.4 347 C42.68 343.67 42.72 342.23 43.3 339 C43.88 335.77 44.93 330.9 45.9 327.6 C46.87 324.3 47.87 321.83 49.1 319.2 C50.33 316.57 51.9 313.9 53.3 311.8 C54.7 309.7 55.92 308.17 57.5 306.6 C59.08 305.03 60.78 303.72 62.8 302.4 C64.82 301.08 67.48 299.6 69.6 298.7 C71.72 297.8 73.17 297.63 75.5 297 C77.83 296.37 80.92 295.47 83.6 294.9 C86.28 294.33 88.93 293.98 91.6 293.6 C94.27 293.22 96.6 292.98 99.6 292.6 C102.6 292.22 106.27 291.7 109.6 291.3 C112.93 290.9 115.27 290.6 119.6 290.2 C123.93 289.8 131.93 289.18 135.6 288.9 C139.27 288.62 139.6 288.68 141.6 288.5 C143.6 288.32 145.77 288.05 147.6 287.8 C149.43 287.55 150.93 287.35 152.6 287 C154.27 286.65 155.93 286.22 157.6 285.7 C159.27 285.18 160.93 284.58 162.6 283.9 C164.27 283.22 165.93 282.5 167.6 281.6 C169.27 280.7 170.93 279.58 172.6 278.5 C174.27 277.42 176.18 276.13 177.6 275.1 C179.02 274.07 179.9 273.3 181.1 272.3 C182.3 271.3 183.47 270.5 184.8 269.1 C186.13 267.7 187.78 265.67 189.1 263.9 C190.42 262.13 191.75 260.27 192.7 258.5 C193.65 256.73 194.22 254.8 194.8 253.3 C195.38 251.8 195.97 250.13 196.2 249.5" fill="none" stroke="#5879b6" stroke-width="1.6" stroke-linejoin="round" stroke-linecap="round"/>
<path d="M42 287.3 C42.02 288.08 42.03 290.47 42.1 292 C42.17 293.53 42.27 295.25 42.4 296.5 C42.53 297.75 42.7 298.58 42.9 299.5 C43.1 300.42 43.32 301.25 43.6 302 C43.88 302.75 44.25 303.4 44.6 304 C44.95 304.6 45.27 305.08 45.7 305.6 C46.13 306.12 46.65 306.62 47.2 307.1 C47.75 307.58 48.3 308.07 49 308.5 C49.7 308.93 50.45 309.32 51.4 309.7 C52.35 310.08 53.02 310.3 54.7 310.8 C56.38 311.3 58.88 312.13 61.5 312.7 C64.12 313.27 66.93 313.72 70.4 314.2 C73.87 314.68 78.97 315.22 82.3 315.6 C85.63 315.98 87.38 316.12 90.4 316.5 C93.42 316.88 97.07 317.45 100.4 317.9 C103.73 318.35 107.07 318.77 110.4 319.2 C113.73 319.63 117.07 319.93 120.4 320.5 C123.73 321.07 127.3 321.78 130.4 322.6 C133.5 323.42 136.5 324.57 139 325.4 C141.5 326.23 143.5 326.87 145.4 327.6 C147.3 328.33 148.62 329.02 150.4 329.8 C152.18 330.58 154.18 331.3 156.1 332.3 C158.02 333.3 160.15 334.45 161.9 335.8 C163.65 337.15 165.18 338.83 166.6 340.4 C168.02 341.97 169.28 343.6 170.4 345.2 C171.52 346.8 172.5 348.58 173.3 350 C174.1 351.42 174.57 352.47 175.2 353.7 C175.83 354.93 176.38 356.02 177.1 357.4 C177.82 358.78 178.42 360.42 179.5 362 C180.58 363.58 182.02 364.92 183.6 366.9 C185.18 368.88 186.68 370.88 189 373.9 C191.32 376.92 196.08 383.15 197.5 385" fill="none" stroke="#e05860" stroke-width="1.6" stroke-linejoin="round" stroke-linecap="round"/>
<path d="M41.5 377.8 C41.55 374.8 41.62 364.8 41.8 359.8 C41.98 354.8 42.32 351.13 42.6 347.8 C42.88 344.47 42.92 343.03 43.5 339.8 C44.08 336.57 45.13 331.7 46.1 328.4 C47.07 325.1 48.07 322.63 49.3 320 C50.53 317.37 52.1 314.7 53.5 312.6 C54.9 310.5 56.12 308.97 57.7 307.4 C59.28 305.83 60.98 304.52 63 303.2 C65.02 301.88 67.68 300.4 69.8 299.5 C71.92 298.6 73.37 298.43 75.7 297.8 C78.03 297.17 81.12 296.27 83.8 295.7 C86.48 295.13 89.13 294.78 91.8 294.4 C94.47 294.02 96.8 293.78 99.8 293.4 C102.8 293.02 106.47 292.5 109.8 292.1 C113.13 291.7 115.47 291.4 119.8 291 C124.13 290.6 132.13 289.98 135.8 289.7 C139.47 289.42 139.8 289.48 141.8 289.3 C143.8 289.12 145.97 288.85 147.8 288.6 C149.63 288.35 151.13 288.15 152.8 287.8 C154.47 287.45 156.13 287.02 157.8 286.5 C159.47 285.98 161.13 285.38 162.8 284.7 C164.47 284.02 166.13 283.3 167.8 282.4 C169.47 281.5 171.13 280.38 172.8 279.3 C174.47 278.22 176.38 276.93 177.8 275.9 C179.22 274.87 180.1 274.1 181.3 273.1 C182.5 272.1 183.67 271.3 185 269.9 C186.33 268.5 187.98 266.55 189.3 264.7 C190.62 262.85 191.95 260.65 192.9 258.8 C193.85 256.95 194.42 255.1 195 253.6 C195.58 252.1 196.17 250.43 196.4 249.8" fill="none" stroke="#e05860" stroke-width="1.6" stroke-linejoin="round" stroke-linecap="round"/>
<path d="M41.6 287.3 C41.62 288.08 41.63 290.47 41.7 292 C41.77 293.53 41.87 295.25 42 296.5 C42.13 297.75 42.3 298.58 42.5 299.5 C42.7 300.42 42.92 301.25 43.2 302 C43.48 302.75 43.85 303.4 44.2 304 C44.55 304.6 44.87 305.08 45.3 305.6 C45.73 306.12 46.25 306.62 46.8 307.1 C47.35 307.58 47.9 308.07 48.6 308.5 C49.3 308.93 50.05 309.32 51 309.7 C51.95 310.08 52.62 310.3 54.3 310.8 C55.98 311.3 58.48 312.13 61.1 312.7 C63.72 313.27 66.53 313.72 70 314.2 C73.47 314.68 78.57 315.22 81.9 315.6 C85.23 315.98 86.98 316.12 90 316.5 C93.02 316.88 96.67 317.45 100 317.9 C103.33 318.35 106.67 318.77 110 319.2 C113.33 319.63 116.67 319.93 120 320.5 C123.33 321.07 126.9 321.78 130 322.6 C133.1 323.42 136.1 324.57 138.6 325.4 C141.1 326.23 143.1 326.87 145 327.6 C146.9 328.33 148.22 329.02 150 329.8 C151.78 330.58 153.78 331.3 155.7 332.3 C157.62 333.3 159.75 334.45 161.5 335.8 C163.25 337.15 164.78 338.83 166.2 340.4 C167.62 341.97 168.88 343.6 170 345.2 C171.12 346.8 172.1 348.58 172.9 350 C173.7 351.42 174.17 352.47 174.8 353.7 C175.43 354.93 175.98 356.02 176.7 357.4 C177.42 358.78 178.02 360.42 179.1 362 C180.18 363.58 181.62 364.92 183.2 366.9 C184.78 368.88 186.28 370.88 188.6 373.9 C190.92 376.92 195.68 383.15 197.1 385" fill="none" stroke="#8dc97f" stroke-width="1.8" stroke-linejoin="round" stroke-linecap="round"/>
<path d="M41.7 378 C41.75 375 41.82 365 42 360 C42.18 355 42.52 351.33 42.8 348 C43.08 344.67 43.12 343.23 43.7 340 C44.28 336.77 45.33 331.9 46.3 328.6 C47.27 325.3 48.27 322.83 49.5 320.2 C50.73 317.57 52.3 314.9 53.7 312.8 C55.1 310.7 56.32 309.17 57.9 307.6 C59.48 306.03 61.18 304.72 63.2 303.4 C65.22 302.08 67.88 300.6 70 299.7 C72.12 298.8 73.57 298.63 75.9 298 C78.23 297.37 81.32 296.47 84 295.9 C86.68 295.33 89.33 294.98 92 294.6 C94.67 294.22 97 293.98 100 293.6 C103 293.22 106.67 292.7 110 292.3 C113.33 291.9 115.67 291.52 120 291.2 C124.33 290.88 132.33 290.6 136 290.4 C139.67 290.2 140 290.18 142 290 C144 289.82 146.17 289.55 148 289.3 C149.83 289.05 151.33 288.85 153 288.5 C154.67 288.15 156.33 287.72 158 287.2 C159.67 286.68 161.33 286.08 163 285.4 C164.67 284.72 166.33 284 168 283.1 C169.67 282.2 171.33 281.08 173 280 C174.67 278.92 176.58 277.63 178 276.6 C179.42 275.57 180.3 274.8 181.5 273.8 C182.7 272.8 183.87 272 185.2 270.6 C186.53 269.2 188.18 267.25 189.5 265.4 C190.82 263.55 192.15 261.35 193.1 259.5 C194.05 257.65 194.62 255.8 195.2 254.3 C195.78 252.8 196.37 251.13 196.6 250.5" fill="none" stroke="#8dc97f" stroke-width="1.8" stroke-linejoin="round" stroke-linecap="round"/>
<line x1="158.3" y1="297.2" x2="179.9" y2="297.2" stroke="#5879b6" stroke-width="1.6"/>
<text x="182.4" y="300.3" font-size="9" font-weight="bold" stroke="#1a1a1a" stroke-width="0.24" fill="#1a1a1a">1 st</text>
<line x1="158.3" y1="308.8" x2="179.9" y2="308.8" stroke="#e05860" stroke-width="1.6"/>
<text x="182.4" y="311.9" font-size="9" font-weight="bold" stroke="#1a1a1a" stroke-width="0.24" fill="#1a1a1a">2 nd</text>
<line x1="158.3" y1="320.4" x2="179.9" y2="320.4" stroke="#8dc97f" stroke-width="1.6"/>
<text x="182.4" y="323.5" font-size="9" font-weight="bold" stroke="#1a1a1a" stroke-width="0.24" fill="#1a1a1a">3 rd</text>
<text x="46.2" y="251.5" font-size="8.8" font-weight="bold" stroke="#1a1a1a" stroke-width="0.24" fill="#1a1a1a">Si<tspan dx="1.4" dy="-1.28" font-weight="normal" font-size="9.68" stroke="#1a1a1a" stroke-width="0.3">|</tspan><tspan dx="1.5" dy="1.28">LiBH</tspan><tspan dx="0" dy="2.38" font-size="6.34">4</tspan><tspan dx="1.3" dy="-3.65" font-weight="normal" font-size="9.68" stroke="#1a1a1a" stroke-width="0.3">|</tspan><tspan dx="2" dy="1.28">S</tspan></text>
<text x="47" y="265.4" font-size="8.75" font-weight="bold" stroke="#1a1a1a" stroke-width="0.24" fill="#1a1a1a">0.05 C</text>
<text x="243.5" y="239.9" font-size="21" stroke="#000" stroke-width="0.35" fill="#000">e</text>
<line x1="278.5" y1="390.4" x2="278.5" y2="388" stroke="#7e7e7e" stroke-width="1"/>
<line x1="316" y1="390.4" x2="316" y2="388" stroke="#7e7e7e" stroke-width="1"/>
<line x1="353.5" y1="390.4" x2="353.5" y2="388" stroke="#7e7e7e" stroke-width="1"/>
<line x1="391" y1="390.4" x2="391" y2="388" stroke="#7e7e7e" stroke-width="1"/>
<line x1="428.5" y1="390.4" x2="428.5" y2="388" stroke="#7e7e7e" stroke-width="1"/>
<line x1="466" y1="390.4" x2="466" y2="388" stroke="#7e7e7e" stroke-width="1"/>
<line x1="503.5" y1="390.4" x2="503.5" y2="388" stroke="#7e7e7e" stroke-width="1"/>
<line x1="541" y1="390.4" x2="541" y2="388" stroke="#7e7e7e" stroke-width="1"/>
<line x1="578.5" y1="390.4" x2="578.5" y2="388" stroke="#7e7e7e" stroke-width="1"/>
<line x1="616" y1="390.4" x2="616" y2="388" stroke="#7e7e7e" stroke-width="1"/>
<line x1="653.5" y1="390.4" x2="653.5" y2="388" stroke="#7e7e7e" stroke-width="1"/>
<text x="0" y="0" font-size="8.9" text-anchor="middle" stroke="#1a1a1a" stroke-width="0.22" fill="#1a1a1a" transform="translate(278.5 401.3) scale(1 1.07)">0</text>
<text x="0" y="0" font-size="8.9" text-anchor="middle" stroke="#1a1a1a" stroke-width="0.22" fill="#1a1a1a" transform="translate(316 401.3) scale(1 1.07)">10</text>
<text x="0" y="0" font-size="8.9" text-anchor="middle" stroke="#1a1a1a" stroke-width="0.22" fill="#1a1a1a" transform="translate(353.5 401.3) scale(1 1.07)">20</text>
<text x="0" y="0" font-size="8.9" text-anchor="middle" stroke="#1a1a1a" stroke-width="0.22" fill="#1a1a1a" transform="translate(391 401.3) scale(1 1.07)">30</text>
<text x="0" y="0" font-size="8.9" text-anchor="middle" stroke="#1a1a1a" stroke-width="0.22" fill="#1a1a1a" transform="translate(428.5 401.3) scale(1 1.07)">40</text>
<text x="0" y="0" font-size="8.9" text-anchor="middle" stroke="#1a1a1a" stroke-width="0.22" fill="#1a1a1a" transform="translate(466 401.3) scale(1 1.07)">50</text>
<text x="0" y="0" font-size="8.9" text-anchor="middle" stroke="#1a1a1a" stroke-width="0.22" fill="#1a1a1a" transform="translate(503.5 401.3) scale(1 1.07)">60</text>
<text x="0" y="0" font-size="8.9" text-anchor="middle" stroke="#1a1a1a" stroke-width="0.22" fill="#1a1a1a" transform="translate(541 401.3) scale(1 1.07)">70</text>
<text x="0" y="0" font-size="8.9" text-anchor="middle" stroke="#1a1a1a" stroke-width="0.22" fill="#1a1a1a" transform="translate(578.5 401.3) scale(1 1.07)">80</text>
<text x="0" y="0" font-size="8.9" text-anchor="middle" stroke="#1a1a1a" stroke-width="0.22" fill="#1a1a1a" transform="translate(616 401.3) scale(1 1.07)">90</text>
<text x="0" y="0" font-size="8.9" text-anchor="middle" stroke="#1a1a1a" stroke-width="0.22" fill="#1a1a1a" transform="translate(653.5 401.3) scale(1 1.07)">100</text>
<text x="466" y="415.6" font-size="9.2" text-anchor="middle" stroke="#1a1a1a" stroke-width="0.22" fill="#1a1a1a">Cycle</text>
<line x1="278.5" y1="390.4" x2="280.9" y2="390.4" stroke="#7e7e7e" stroke-width="1"/>
<line x1="278.5" y1="376.22" x2="279.9" y2="376.22" stroke="#7e7e7e" stroke-width="1"/>
<line x1="278.5" y1="362.05" x2="280.9" y2="362.05" stroke="#7e7e7e" stroke-width="1"/>
<line x1="278.5" y1="347.88" x2="279.9" y2="347.88" stroke="#7e7e7e" stroke-width="1"/>
<line x1="278.5" y1="333.7" x2="280.9" y2="333.7" stroke="#7e7e7e" stroke-width="1"/>
<line x1="278.5" y1="319.52" x2="279.9" y2="319.52" stroke="#7e7e7e" stroke-width="1"/>
<line x1="278.5" y1="305.35" x2="280.9" y2="305.35" stroke="#7e7e7e" stroke-width="1"/>
<line x1="278.5" y1="291.17" x2="279.9" y2="291.17" stroke="#7e7e7e" stroke-width="1"/>
<line x1="278.5" y1="277" x2="280.9" y2="277" stroke="#7e7e7e" stroke-width="1"/>
<line x1="278.5" y1="262.82" x2="279.9" y2="262.82" stroke="#7e7e7e" stroke-width="1"/>
<line x1="278.5" y1="248.65" x2="280.9" y2="248.65" stroke="#7e7e7e" stroke-width="1"/>
<text x="0" y="0" font-size="8.9" text-anchor="end" stroke="#1a1a1a" stroke-width="0.22" fill="#1a1a1a" transform="translate(275.7 393.68) scale(1 1.07)">0.0</text>
<text x="0" y="0" font-size="8.9" text-anchor="end" stroke="#1a1a1a" stroke-width="0.22" fill="#1a1a1a" transform="translate(275.7 365.33) scale(1 1.07)">0.3</text>
<text x="0" y="0" font-size="8.9" text-anchor="end" stroke="#1a1a1a" stroke-width="0.22" fill="#1a1a1a" transform="translate(275.7 336.98) scale(1 1.07)">0.6</text>
<text x="0" y="0" font-size="8.9" text-anchor="end" stroke="#1a1a1a" stroke-width="0.22" fill="#1a1a1a" transform="translate(275.7 308.63) scale(1 1.07)">0.9</text>
<text x="0" y="0" font-size="8.9" text-anchor="end" stroke="#1a1a1a" stroke-width="0.22" fill="#1a1a1a" transform="translate(275.7 280.28) scale(1 1.07)">1.2</text>
<text x="0" y="0" font-size="8.9" text-anchor="end" stroke="#1a1a1a" stroke-width="0.22" fill="#1a1a1a" transform="translate(275.7 251.93) scale(1 1.07)">1.5</text>
<line x1="653.5" y1="390.4" x2="651.1" y2="390.4" stroke="#7e7e7e" stroke-width="1"/>
<line x1="653.5" y1="376.65" x2="652.1" y2="376.65" stroke="#7e7e7e" stroke-width="1"/>
<line x1="653.5" y1="362.91" x2="651.1" y2="362.91" stroke="#7e7e7e" stroke-width="1"/>
<line x1="653.5" y1="349.16" x2="652.1" y2="349.16" stroke="#7e7e7e" stroke-width="1"/>
<line x1="653.5" y1="335.42" x2="651.1" y2="335.42" stroke="#7e7e7e" stroke-width="1"/>
<line x1="653.5" y1="321.67" x2="652.1" y2="321.67" stroke="#7e7e7e" stroke-width="1"/>
<line x1="653.5" y1="307.93" x2="651.1" y2="307.93" stroke="#7e7e7e" stroke-width="1"/>
<line x1="653.5" y1="294.18" x2="652.1" y2="294.18" stroke="#7e7e7e" stroke-width="1"/>
<line x1="653.5" y1="280.44" x2="651.1" y2="280.44" stroke="#7e7e7e" stroke-width="1"/>
<line x1="653.5" y1="266.69" x2="652.1" y2="266.69" stroke="#7e7e7e" stroke-width="1"/>
<line x1="653.5" y1="252.95" x2="651.1" y2="252.95" stroke="#7e7e7e" stroke-width="1"/>
<line x1="653.5" y1="239.2" x2="652.1" y2="239.2" stroke="#7e7e7e" stroke-width="1"/>
<text x="0" y="0" font-size="8.9" stroke="#1a1a1a" stroke-width="0.22" fill="#1a1a1a" transform="translate(656.3 393.68) scale(1 1.07)">0</text>
<text x="0" y="0" font-size="8.9" stroke="#1a1a1a" stroke-width="0.22" fill="#1a1a1a" transform="translate(656.3 366.19) scale(1 1.07)">20</text>
<text x="0" y="0" font-size="8.9" stroke="#1a1a1a" stroke-width="0.22" fill="#1a1a1a" transform="translate(656.3 338.69) scale(1 1.07)">40</text>
<text x="0" y="0" font-size="8.9" stroke="#1a1a1a" stroke-width="0.22" fill="#1a1a1a" transform="translate(656.3 311.2) scale(1 1.07)">60</text>
<text x="0" y="0" font-size="8.9" stroke="#1a1a1a" stroke-width="0.22" fill="#1a1a1a" transform="translate(656.3 283.71) scale(1 1.07)">80</text>
<text x="0" y="0" font-size="8.9" stroke="#1a1a1a" stroke-width="0.22" fill="#1a1a1a" transform="translate(656.3 256.22) scale(1 1.07)">100</text>
<text x="252.7" y="314.8" font-size="9.3" text-anchor="middle" stroke="#1a1a1a" stroke-width="0.22" fill="#1a1a1a" transform="rotate(-90 252.7 314.8)">Capacity (Ah)</text>
<text x="682.6" y="313.8" font-size="9.7" text-anchor="middle" stroke="#1a1a1a" stroke-width="0.22" fill="#1a1a1a" transform="rotate(-90 682.6 313.8)">Coulombic Efficiency (%)</text>
<text x="278.4" y="234.9" font-size="8.7" font-weight="bold" stroke="#1a1a1a" stroke-width="0.24" fill="#1a1a1a">0.05 C</text>
<text x="479.8" y="235.2" font-size="8.7" text-anchor="middle" font-weight="bold" stroke="#1a1a1a" stroke-width="0.24" fill="#1a1a1a">0.1 C</text>
<clipPath id="clipe"><rect x="278.5" y="239.2" width="375" height="151.2"/></clipPath><g clip-path="url(#clipe)">
<circle cx="282.65" cy="249.8" r="2.35" fill="#c7dbf0" stroke="#7eaedb" stroke-width="1"/>
<circle cx="286.4" cy="253.6" r="2.35" fill="#c7dbf0" stroke="#7eaedb" stroke-width="1"/>
<circle cx="290.15" cy="252.9" r="2.35" fill="#c7dbf0" stroke="#7eaedb" stroke-width="1"/>
<circle cx="293.9" cy="262.2" r="2.35" fill="#c7dbf0" stroke="#7eaedb" stroke-width="1"/>
<circle cx="297.65" cy="253.3" r="2.35" fill="#c7dbf0" stroke="#7eaedb" stroke-width="1"/>
<circle cx="301.4" cy="253.3" r="2.35" fill="#c7dbf0" stroke="#7eaedb" stroke-width="1"/>
<circle cx="305.15" cy="253.3" r="2.35" fill="#c7dbf0" stroke="#7eaedb" stroke-width="1"/>
<circle cx="308.9" cy="253.3" r="2.35" fill="#c7dbf0" stroke="#7eaedb" stroke-width="1"/>
<circle cx="312.65" cy="253.3" r="2.35" fill="#c7dbf0" stroke="#7eaedb" stroke-width="1"/>
<circle cx="316.4" cy="253.3" r="2.35" fill="#c7dbf0" stroke="#7eaedb" stroke-width="1"/>
<circle cx="320.15" cy="253.3" r="2.35" fill="#c7dbf0" stroke="#7eaedb" stroke-width="1"/>
<circle cx="323.9" cy="253.3" r="2.35" fill="#c7dbf0" stroke="#7eaedb" stroke-width="1"/>
<circle cx="327.65" cy="253.3" r="2.35" fill="#c7dbf0" stroke="#7eaedb" stroke-width="1"/>
<circle cx="331.4" cy="253.3" r="2.35" fill="#c7dbf0" stroke="#7eaedb" stroke-width="1"/>
<circle cx="335.15" cy="253.3" r="2.35" fill="#c7dbf0" stroke="#7eaedb" stroke-width="1"/>
<circle cx="338.9" cy="253.3" r="2.35" fill="#c7dbf0" stroke="#7eaedb" stroke-width="1"/>
<circle cx="342.65" cy="253.3" r="2.35" fill="#c7dbf0" stroke="#7eaedb" stroke-width="1"/>
<circle cx="346.4" cy="253.3" r="2.35" fill="#c7dbf0" stroke="#7eaedb" stroke-width="1"/>
<circle cx="350.15" cy="253.3" r="2.35" fill="#c7dbf0" stroke="#7eaedb" stroke-width="1"/>
<circle cx="353.9" cy="253.3" r="2.35" fill="#c7dbf0" stroke="#7eaedb" stroke-width="1"/>
<circle cx="357.65" cy="253.3" r="2.35" fill="#c7dbf0" stroke="#7eaedb" stroke-width="1"/>
<circle cx="361.4" cy="253.3" r="2.35" fill="#c7dbf0" stroke="#7eaedb" stroke-width="1"/>
<circle cx="365.15" cy="253.3" r="2.35" fill="#c7dbf0" stroke="#7eaedb" stroke-width="1"/>
<circle cx="368.9" cy="253.3" r="2.35" fill="#c7dbf0" stroke="#7eaedb" stroke-width="1"/>
<circle cx="372.65" cy="253.3" r="2.35" fill="#c7dbf0" stroke="#7eaedb" stroke-width="1"/>
<circle cx="376.4" cy="253.3" r="2.35" fill="#c7dbf0" stroke="#7eaedb" stroke-width="1"/>
<circle cx="380.15" cy="253.3" r="2.35" fill="#c7dbf0" stroke="#7eaedb" stroke-width="1"/>
<circle cx="383.9" cy="253.3" r="2.35" fill="#c7dbf0" stroke="#7eaedb" stroke-width="1"/>
<circle cx="387.65" cy="253.3" r="2.35" fill="#c7dbf0" stroke="#7eaedb" stroke-width="1"/>
<circle cx="391.4" cy="253.3" r="2.35" fill="#c7dbf0" stroke="#7eaedb" stroke-width="1"/>
<circle cx="395.15" cy="253.3" r="2.35" fill="#c7dbf0" stroke="#7eaedb" stroke-width="1"/>
<circle cx="398.9" cy="253.3" r="2.35" fill="#c7dbf0" stroke="#7eaedb" stroke-width="1"/>
<circle cx="402.65" cy="253.3" r="2.35" fill="#c7dbf0" stroke="#7eaedb" stroke-width="1"/>
<circle cx="406.4" cy="253.3" r="2.35" fill="#c7dbf0" stroke="#7eaedb" stroke-width="1"/>
<circle cx="410.15" cy="253.3" r="2.35" fill="#c7dbf0" stroke="#7eaedb" stroke-width="1"/>
<circle cx="413.9" cy="253.3" r="2.35" fill="#c7dbf0" stroke="#7eaedb" stroke-width="1"/>
<circle cx="417.65" cy="253.3" r="2.35" fill="#c7dbf0" stroke="#7eaedb" stroke-width="1"/>
<circle cx="421.4" cy="253.3" r="2.35" fill="#c7dbf0" stroke="#7eaedb" stroke-width="1"/>
<circle cx="425.15" cy="253.3" r="2.35" fill="#c7dbf0" stroke="#7eaedb" stroke-width="1"/>
<circle cx="428.9" cy="253.3" r="2.35" fill="#c7dbf0" stroke="#7eaedb" stroke-width="1"/>
<circle cx="432.65" cy="253.3" r="2.35" fill="#c7dbf0" stroke="#7eaedb" stroke-width="1"/>
<circle cx="436.4" cy="253.3" r="2.35" fill="#c7dbf0" stroke="#7eaedb" stroke-width="1"/>
<circle cx="440.15" cy="253.3" r="2.35" fill="#c7dbf0" stroke="#7eaedb" stroke-width="1"/>
<circle cx="443.9" cy="253.3" r="2.35" fill="#c7dbf0" stroke="#7eaedb" stroke-width="1"/>
<circle cx="447.65" cy="253.3" r="2.35" fill="#c7dbf0" stroke="#7eaedb" stroke-width="1"/>
<circle cx="451.4" cy="253.3" r="2.35" fill="#c7dbf0" stroke="#7eaedb" stroke-width="1"/>
<circle cx="455.15" cy="253.3" r="2.35" fill="#c7dbf0" stroke="#7eaedb" stroke-width="1"/>
<circle cx="458.9" cy="253.3" r="2.35" fill="#c7dbf0" stroke="#7eaedb" stroke-width="1"/>
<circle cx="462.65" cy="253.3" r="2.35" fill="#c7dbf0" stroke="#7eaedb" stroke-width="1"/>
<circle cx="466.4" cy="253.3" r="2.35" fill="#c7dbf0" stroke="#7eaedb" stroke-width="1"/>
<circle cx="470.15" cy="253.3" r="2.35" fill="#c7dbf0" stroke="#7eaedb" stroke-width="1"/>
<circle cx="473.9" cy="253.3" r="2.35" fill="#c7dbf0" stroke="#7eaedb" stroke-width="1"/>
<circle cx="477.65" cy="253.3" r="2.35" fill="#c7dbf0" stroke="#7eaedb" stroke-width="1"/>
<circle cx="481.4" cy="253.3" r="2.35" fill="#c7dbf0" stroke="#7eaedb" stroke-width="1"/>
<circle cx="485.15" cy="253.3" r="2.35" fill="#c7dbf0" stroke="#7eaedb" stroke-width="1"/>
<circle cx="488.9" cy="253.3" r="2.35" fill="#c7dbf0" stroke="#7eaedb" stroke-width="1"/>
<circle cx="492.65" cy="253.3" r="2.35" fill="#c7dbf0" stroke="#7eaedb" stroke-width="1"/>
<circle cx="496.4" cy="253.3" r="2.35" fill="#c7dbf0" stroke="#7eaedb" stroke-width="1"/>
<circle cx="500.15" cy="253.3" r="2.35" fill="#c7dbf0" stroke="#7eaedb" stroke-width="1"/>
<circle cx="503.9" cy="253.3" r="2.35" fill="#c7dbf0" stroke="#7eaedb" stroke-width="1"/>
<circle cx="507.65" cy="253.3" r="2.35" fill="#c7dbf0" stroke="#7eaedb" stroke-width="1"/>
<circle cx="511.4" cy="253.3" r="2.35" fill="#c7dbf0" stroke="#7eaedb" stroke-width="1"/>
<circle cx="515.15" cy="253.3" r="2.35" fill="#c7dbf0" stroke="#7eaedb" stroke-width="1"/>
<circle cx="518.9" cy="253.3" r="2.35" fill="#c7dbf0" stroke="#7eaedb" stroke-width="1"/>
<circle cx="522.65" cy="253.3" r="2.35" fill="#c7dbf0" stroke="#7eaedb" stroke-width="1"/>
<circle cx="526.4" cy="253.3" r="2.35" fill="#c7dbf0" stroke="#7eaedb" stroke-width="1"/>
<circle cx="530.15" cy="253.3" r="2.35" fill="#c7dbf0" stroke="#7eaedb" stroke-width="1"/>
<circle cx="533.9" cy="253.3" r="2.35" fill="#c7dbf0" stroke="#7eaedb" stroke-width="1"/>
<circle cx="537.65" cy="253.3" r="2.35" fill="#c7dbf0" stroke="#7eaedb" stroke-width="1"/>
<circle cx="541.4" cy="253.3" r="2.35" fill="#c7dbf0" stroke="#7eaedb" stroke-width="1"/>
<circle cx="545.15" cy="253.3" r="2.35" fill="#c7dbf0" stroke="#7eaedb" stroke-width="1"/>
<circle cx="548.9" cy="253.3" r="2.35" fill="#c7dbf0" stroke="#7eaedb" stroke-width="1"/>
<circle cx="552.65" cy="253.3" r="2.35" fill="#c7dbf0" stroke="#7eaedb" stroke-width="1"/>
<circle cx="556.4" cy="253.3" r="2.35" fill="#c7dbf0" stroke="#7eaedb" stroke-width="1"/>
<circle cx="560.15" cy="253.3" r="2.35" fill="#c7dbf0" stroke="#7eaedb" stroke-width="1"/>
<circle cx="563.9" cy="253.3" r="2.35" fill="#c7dbf0" stroke="#7eaedb" stroke-width="1"/>
<circle cx="567.65" cy="253.3" r="2.35" fill="#c7dbf0" stroke="#7eaedb" stroke-width="1"/>
<circle cx="571.4" cy="253.3" r="2.35" fill="#c7dbf0" stroke="#7eaedb" stroke-width="1"/>
<circle cx="575.15" cy="253.3" r="2.35" fill="#c7dbf0" stroke="#7eaedb" stroke-width="1"/>
<circle cx="578.9" cy="253.3" r="2.35" fill="#c7dbf0" stroke="#7eaedb" stroke-width="1"/>
<circle cx="582.65" cy="253.3" r="2.35" fill="#c7dbf0" stroke="#7eaedb" stroke-width="1"/>
<circle cx="586.4" cy="253.3" r="2.35" fill="#c7dbf0" stroke="#7eaedb" stroke-width="1"/>
<circle cx="590.15" cy="253.3" r="2.35" fill="#c7dbf0" stroke="#7eaedb" stroke-width="1"/>
<circle cx="593.9" cy="253.3" r="2.35" fill="#c7dbf0" stroke="#7eaedb" stroke-width="1"/>
<circle cx="597.65" cy="253.3" r="2.35" fill="#c7dbf0" stroke="#7eaedb" stroke-width="1"/>
<circle cx="601.4" cy="253.3" r="2.35" fill="#c7dbf0" stroke="#7eaedb" stroke-width="1"/>
<circle cx="605.15" cy="253.3" r="2.35" fill="#c7dbf0" stroke="#7eaedb" stroke-width="1"/>
<circle cx="608.9" cy="253.3" r="2.35" fill="#c7dbf0" stroke="#7eaedb" stroke-width="1"/>
<circle cx="612.65" cy="253.3" r="2.35" fill="#c7dbf0" stroke="#7eaedb" stroke-width="1"/>
<circle cx="616.4" cy="253.3" r="2.35" fill="#c7dbf0" stroke="#7eaedb" stroke-width="1"/>
<circle cx="620.15" cy="253.3" r="2.35" fill="#c7dbf0" stroke="#7eaedb" stroke-width="1"/>
<circle cx="623.9" cy="253.3" r="2.35" fill="#c7dbf0" stroke="#7eaedb" stroke-width="1"/>
<circle cx="627.65" cy="253.3" r="2.35" fill="#c7dbf0" stroke="#7eaedb" stroke-width="1"/>
<circle cx="631.4" cy="253.3" r="2.35" fill="#c7dbf0" stroke="#7eaedb" stroke-width="1"/>
<circle cx="635.15" cy="253.3" r="2.35" fill="#c7dbf0" stroke="#7eaedb" stroke-width="1"/>
<circle cx="638.9" cy="253.3" r="2.35" fill="#c7dbf0" stroke="#7eaedb" stroke-width="1"/>
<circle cx="642.65" cy="253.3" r="2.35" fill="#c7dbf0" stroke="#7eaedb" stroke-width="1"/>
<circle cx="646.4" cy="253.3" r="2.35" fill="#c7dbf0" stroke="#7eaedb" stroke-width="1"/>
<circle cx="650.15" cy="253.3" r="2.35" fill="#c7dbf0" stroke="#7eaedb" stroke-width="1"/>
<circle cx="653.9" cy="253.3" r="2.35" fill="#c7dbf0" stroke="#7eaedb" stroke-width="1"/>
<circle cx="282.65" cy="276.6" r="2.35" fill="#f8c4cc" stroke="#e36d88" stroke-width="1"/>
<circle cx="286.4" cy="272.7" r="2.35" fill="#f8c4cc" stroke="#e36d88" stroke-width="1"/>
<circle cx="290.15" cy="272.7" r="2.35" fill="#f8c4cc" stroke="#e36d88" stroke-width="1"/>
<circle cx="293.9" cy="279.5" r="2.35" fill="#f8c4cc" stroke="#e36d88" stroke-width="1"/>
<circle cx="297.65" cy="286.2" r="2.35" fill="#f8c4cc" stroke="#e36d88" stroke-width="1"/>
<circle cx="301.4" cy="285.6" r="2.35" fill="#f8c4cc" stroke="#e36d88" stroke-width="1"/>
<circle cx="305.15" cy="285.2" r="2.35" fill="#f8c4cc" stroke="#e36d88" stroke-width="1"/>
<circle cx="308.9" cy="284.8" r="2.35" fill="#f8c4cc" stroke="#e36d88" stroke-width="1"/>
<circle cx="312.65" cy="284.2" r="2.35" fill="#f8c4cc" stroke="#e36d88" stroke-width="1"/>
<circle cx="316.4" cy="283.93" r="2.35" fill="#f8c4cc" stroke="#e36d88" stroke-width="1"/>
<circle cx="320.15" cy="283.67" r="2.35" fill="#f8c4cc" stroke="#e36d88" stroke-width="1"/>
<circle cx="323.9" cy="283.4" r="2.35" fill="#f8c4cc" stroke="#e36d88" stroke-width="1"/>
<circle cx="327.65" cy="283.22" r="2.35" fill="#f8c4cc" stroke="#e36d88" stroke-width="1"/>
<circle cx="331.4" cy="283.04" r="2.35" fill="#f8c4cc" stroke="#e36d88" stroke-width="1"/>
<circle cx="335.15" cy="282.87" r="2.35" fill="#f8c4cc" stroke="#e36d88" stroke-width="1"/>
<circle cx="338.9" cy="282.69" r="2.35" fill="#f8c4cc" stroke="#e36d88" stroke-width="1"/>
<circle cx="342.65" cy="282.53" r="2.35" fill="#f8c4cc" stroke="#e36d88" stroke-width="1"/>
<circle cx="346.4" cy="282.38" r="2.35" fill="#f8c4cc" stroke="#e36d88" stroke-width="1"/>
<circle cx="350.15" cy="282.24" r="2.35" fill="#f8c4cc" stroke="#e36d88" stroke-width="1"/>
<circle cx="353.9" cy="282.09" r="2.35" fill="#f8c4cc" stroke="#e36d88" stroke-width="1"/>
<circle cx="357.65" cy="281.95" r="2.35" fill="#f8c4cc" stroke="#e36d88" stroke-width="1"/>
<circle cx="361.4" cy="281.8" r="2.35" fill="#f8c4cc" stroke="#e36d88" stroke-width="1"/>
<circle cx="365.15" cy="281.71" r="2.35" fill="#f8c4cc" stroke="#e36d88" stroke-width="1"/>
<circle cx="368.9" cy="281.74" r="2.35" fill="#f8c4cc" stroke="#e36d88" stroke-width="1"/>
<circle cx="372.65" cy="281.77" r="2.35" fill="#f8c4cc" stroke="#e36d88" stroke-width="1"/>
<circle cx="376.4" cy="281.81" r="2.35" fill="#f8c4cc" stroke="#e36d88" stroke-width="1"/>
<circle cx="380.15" cy="281.84" r="2.35" fill="#f8c4cc" stroke="#e36d88" stroke-width="1"/>
<circle cx="383.9" cy="281.87" r="2.35" fill="#f8c4cc" stroke="#e36d88" stroke-width="1"/>
<circle cx="387.65" cy="281.93" r="2.35" fill="#f8c4cc" stroke="#e36d88" stroke-width="1"/>
<circle cx="391.4" cy="282.2" r="2.35" fill="#f8c4cc" stroke="#e36d88" stroke-width="1"/>
<circle cx="395.15" cy="282.48" r="2.35" fill="#f8c4cc" stroke="#e36d88" stroke-width="1"/>
<circle cx="398.9" cy="282.75" r="2.35" fill="#f8c4cc" stroke="#e36d88" stroke-width="1"/>
<circle cx="402.65" cy="283.02" r="2.35" fill="#f8c4cc" stroke="#e36d88" stroke-width="1"/>
<circle cx="406.4" cy="283.3" r="2.35" fill="#f8c4cc" stroke="#e36d88" stroke-width="1"/>
<circle cx="410.15" cy="283.57" r="2.35" fill="#f8c4cc" stroke="#e36d88" stroke-width="1"/>
<circle cx="413.9" cy="283.93" r="2.35" fill="#f8c4cc" stroke="#e36d88" stroke-width="1"/>
<circle cx="417.65" cy="284.3" r="2.35" fill="#f8c4cc" stroke="#e36d88" stroke-width="1"/>
<circle cx="421.4" cy="284.68" r="2.35" fill="#f8c4cc" stroke="#e36d88" stroke-width="1"/>
<circle cx="425.15" cy="285.05" r="2.35" fill="#f8c4cc" stroke="#e36d88" stroke-width="1"/>
<circle cx="428.9" cy="285.42" r="2.35" fill="#f8c4cc" stroke="#e36d88" stroke-width="1"/>
<circle cx="432.65" cy="285.79" r="2.35" fill="#f8c4cc" stroke="#e36d88" stroke-width="1"/>
<circle cx="436.4" cy="286.09" r="2.35" fill="#f8c4cc" stroke="#e36d88" stroke-width="1"/>
<circle cx="440.15" cy="286.36" r="2.35" fill="#f8c4cc" stroke="#e36d88" stroke-width="1"/>
<circle cx="443.9" cy="286.63" r="2.35" fill="#f8c4cc" stroke="#e36d88" stroke-width="1"/>
<circle cx="447.65" cy="286.9" r="2.35" fill="#f8c4cc" stroke="#e36d88" stroke-width="1"/>
<circle cx="451.4" cy="287.17" r="2.35" fill="#f8c4cc" stroke="#e36d88" stroke-width="1"/>
<circle cx="455.15" cy="287.44" r="2.35" fill="#f8c4cc" stroke="#e36d88" stroke-width="1"/>
<circle cx="458.9" cy="287.71" r="2.35" fill="#f8c4cc" stroke="#e36d88" stroke-width="1"/>
<circle cx="462.65" cy="287.98" r="2.35" fill="#f8c4cc" stroke="#e36d88" stroke-width="1"/>
<circle cx="466.4" cy="288.26" r="2.35" fill="#f8c4cc" stroke="#e36d88" stroke-width="1"/>
<circle cx="470.15" cy="288.53" r="2.35" fill="#f8c4cc" stroke="#e36d88" stroke-width="1"/>
<circle cx="473.9" cy="288.81" r="2.35" fill="#f8c4cc" stroke="#e36d88" stroke-width="1"/>
<circle cx="477.65" cy="289.08" r="2.35" fill="#f8c4cc" stroke="#e36d88" stroke-width="1"/>
<circle cx="481.4" cy="289.36" r="2.35" fill="#f8c4cc" stroke="#e36d88" stroke-width="1"/>
<circle cx="485.15" cy="289.68" r="2.35" fill="#f8c4cc" stroke="#e36d88" stroke-width="1"/>
<circle cx="488.9" cy="290.01" r="2.35" fill="#f8c4cc" stroke="#e36d88" stroke-width="1"/>
<circle cx="492.65" cy="290.33" r="2.35" fill="#f8c4cc" stroke="#e36d88" stroke-width="1"/>
<circle cx="496.4" cy="290.65" r="2.35" fill="#f8c4cc" stroke="#e36d88" stroke-width="1"/>
<circle cx="500.15" cy="290.97" r="2.35" fill="#f8c4cc" stroke="#e36d88" stroke-width="1"/>
<circle cx="503.9" cy="291.47" r="2.35" fill="#f8c4cc" stroke="#e36d88" stroke-width="1"/>
<circle cx="507.65" cy="291.99" r="2.35" fill="#f8c4cc" stroke="#e36d88" stroke-width="1"/>
<circle cx="511.4" cy="292.51" r="2.35" fill="#f8c4cc" stroke="#e36d88" stroke-width="1"/>
<circle cx="515.15" cy="293.03" r="2.35" fill="#f8c4cc" stroke="#e36d88" stroke-width="1"/>
<circle cx="518.9" cy="293.55" r="2.35" fill="#f8c4cc" stroke="#e36d88" stroke-width="1"/>
<circle cx="522.65" cy="294.15" r="2.35" fill="#f8c4cc" stroke="#e36d88" stroke-width="1"/>
<circle cx="526.4" cy="294.77" r="2.35" fill="#f8c4cc" stroke="#e36d88" stroke-width="1"/>
<circle cx="530.15" cy="295.38" r="2.35" fill="#f8c4cc" stroke="#e36d88" stroke-width="1"/>
<circle cx="533.9" cy="296" r="2.35" fill="#f8c4cc" stroke="#e36d88" stroke-width="1"/>
<circle cx="537.65" cy="296.62" r="2.35" fill="#f8c4cc" stroke="#e36d88" stroke-width="1"/>
<circle cx="541.4" cy="297.23" r="2.35" fill="#f8c4cc" stroke="#e36d88" stroke-width="1"/>
<circle cx="545.15" cy="297.83" r="2.35" fill="#f8c4cc" stroke="#e36d88" stroke-width="1"/>
<circle cx="548.9" cy="298.41" r="2.35" fill="#f8c4cc" stroke="#e36d88" stroke-width="1"/>
<circle cx="552.65" cy="298.99" r="2.35" fill="#f8c4cc" stroke="#e36d88" stroke-width="1"/>
<circle cx="556.4" cy="299.57" r="2.35" fill="#f8c4cc" stroke="#e36d88" stroke-width="1"/>
<circle cx="560.15" cy="300.14" r="2.35" fill="#f8c4cc" stroke="#e36d88" stroke-width="1"/>
<circle cx="563.9" cy="300.72" r="2.35" fill="#f8c4cc" stroke="#e36d88" stroke-width="1"/>
<circle cx="567.65" cy="301.3" r="2.35" fill="#f8c4cc" stroke="#e36d88" stroke-width="1"/>
<circle cx="571.4" cy="301.82" r="2.35" fill="#f8c4cc" stroke="#e36d88" stroke-width="1"/>
<circle cx="575.15" cy="302.33" r="2.35" fill="#f8c4cc" stroke="#e36d88" stroke-width="1"/>
<circle cx="578.9" cy="302.85" r="2.35" fill="#f8c4cc" stroke="#e36d88" stroke-width="1"/>
<circle cx="582.65" cy="303.36" r="2.35" fill="#f8c4cc" stroke="#e36d88" stroke-width="1"/>
<circle cx="586.4" cy="303.88" r="2.35" fill="#f8c4cc" stroke="#e36d88" stroke-width="1"/>
<circle cx="590.15" cy="304.39" r="2.35" fill="#f8c4cc" stroke="#e36d88" stroke-width="1"/>
<circle cx="593.9" cy="304.91" r="2.35" fill="#f8c4cc" stroke="#e36d88" stroke-width="1"/>
<circle cx="597.65" cy="305.43" r="2.35" fill="#f8c4cc" stroke="#e36d88" stroke-width="1"/>
<circle cx="601.4" cy="305.94" r="2.35" fill="#f8c4cc" stroke="#e36d88" stroke-width="1"/>
<circle cx="605.15" cy="306.46" r="2.35" fill="#f8c4cc" stroke="#e36d88" stroke-width="1"/>
<circle cx="608.9" cy="306.97" r="2.35" fill="#f8c4cc" stroke="#e36d88" stroke-width="1"/>
<circle cx="612.65" cy="307.49" r="2.35" fill="#f8c4cc" stroke="#e36d88" stroke-width="1"/>
<circle cx="616.4" cy="308" r="2.35" fill="#f8c4cc" stroke="#e36d88" stroke-width="1"/>
<circle cx="620.15" cy="308.47" r="2.35" fill="#f8c4cc" stroke="#e36d88" stroke-width="1"/>
<circle cx="623.9" cy="308.95" r="2.35" fill="#f8c4cc" stroke="#e36d88" stroke-width="1"/>
<circle cx="627.65" cy="309.43" r="2.35" fill="#f8c4cc" stroke="#e36d88" stroke-width="1"/>
<circle cx="631.4" cy="309.9" r="2.35" fill="#f8c4cc" stroke="#e36d88" stroke-width="1"/>
<circle cx="635.15" cy="310.38" r="2.35" fill="#f8c4cc" stroke="#e36d88" stroke-width="1"/>
<circle cx="638.9" cy="310.86" r="2.35" fill="#f8c4cc" stroke="#e36d88" stroke-width="1"/>
<circle cx="642.65" cy="311.34" r="2.35" fill="#f8c4cc" stroke="#e36d88" stroke-width="1"/>
<circle cx="646.4" cy="311.83" r="2.35" fill="#f8c4cc" stroke="#e36d88" stroke-width="1"/>
<circle cx="650.15" cy="312.31" r="2.35" fill="#f8c4cc" stroke="#e36d88" stroke-width="1"/>
<circle cx="653.9" cy="312.8" r="2.35" fill="#f8c4cc" stroke="#e36d88" stroke-width="1"/>
</g>
<line x1="291.93" y1="240.2" x2="291.93" y2="390.4" stroke="#6a6a6a" stroke-width="1" stroke-dasharray="2.4,1.7"/>
<line x1="278.5" y1="239.2" x2="653.5" y2="239.2" stroke="#b4b4b4" stroke-width="1.3" stroke-linecap="square"/>
<line x1="278.5" y1="390.4" x2="653.5" y2="390.4" stroke="#858585" stroke-width="1.15" stroke-linecap="square"/>
<line x1="278.5" y1="239.2" x2="278.5" y2="390.4" stroke="#acacac" stroke-width="1.3" stroke-linecap="square"/>
<line x1="653.5" y1="239.2" x2="653.5" y2="390.4" stroke="#888888" stroke-width="1.15" stroke-linecap="square"/>
<line x1="302.4" y1="295.9" x2="287.4" y2="295.9" stroke="#000" stroke-width="1.75"/>
<path d="M283.3 295.9 L287.9 292 L287.1 295.9 L287.9 299.8 Z" fill="#000"/>
<line x1="630.4" y1="263.8" x2="645.8" y2="263.8" stroke="#000" stroke-width="1.75"/>
<path d="M650.1 263.8 L645.3 260 L646.1 263.8 L645.3 267.6 Z" fill="#000"/>
<text x="650.6" y="362" font-size="12.15" text-anchor="end" font-weight="bold" stroke="#1a1a1a" stroke-width="0.24" fill="#1a1a1a">21.7 mg cm<tspan dy="-4.2" font-size="8.4">−2</tspan></text>
<text x="576.4" y="380.2" font-size="12.5" font-weight="bold" stroke="#1a1a1a" stroke-width="0.24" fill="#1a1a1a">Si<tspan dx="3.1" dy="-1.81" font-weight="normal" font-size="13.75" stroke="#1a1a1a" stroke-width="0.3">|</tspan><tspan dx="1.5" dy="1.81">LiBH</tspan><tspan dx="0" dy="3.38" font-size="9">4</tspan><tspan dx="2" dy="-5.19" font-weight="normal" font-size="13.75" stroke="#1a1a1a" stroke-width="0.3">|</tspan><tspan dx="2.1" dy="1.81">S</tspan></text>
</svg>
</body></html>
